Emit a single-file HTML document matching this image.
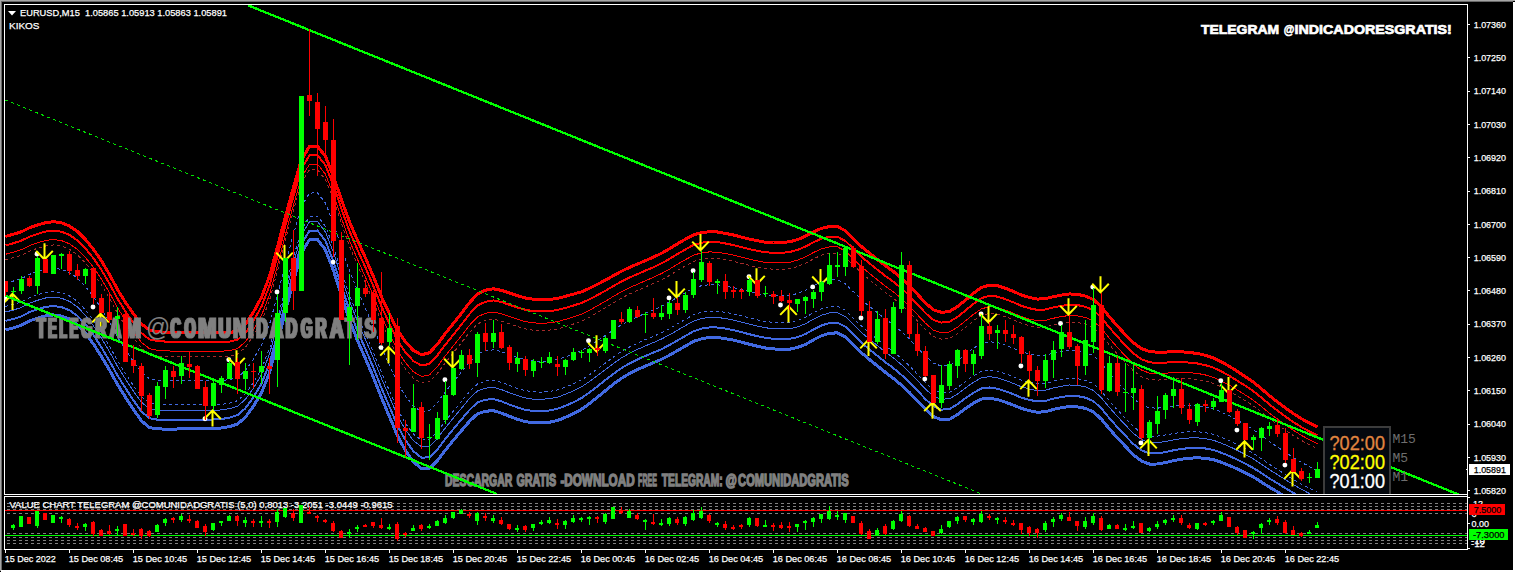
<!DOCTYPE html>
<html><head><meta charset="utf-8"><title>EURUSD,M15</title><style>html,body{margin:0;padding:0;background:#000;overflow:hidden}svg{display:block}</style></head><body>
<svg width="1515" height="572" viewBox="0 0 1515 572" font-family="'Liberation Sans', sans-serif">
<defs><filter id="fat" x="-5%" y="-20%" width="110%" height="140%"><feMorphology operator="dilate" radius="1 0"/></filter><filter id="fat2" x="-5%" y="-20%" width="110%" height="140%"><feMorphology operator="dilate" radius="0.5 0"/></filter><clipPath id="cm"><rect x="5" y="5" width="1462" height="489"/></clipPath><clipPath id="ci"><rect x="5" y="497" width="1462" height="52"/></clipPath></defs>
<rect width="1515" height="572" fill="#000"/>
<g shape-rendering="crispEdges">
<rect x="0" y="0" width="1515" height="1" fill="#a6a6a6"/><rect x="1" y="1" width="1512" height="1" fill="#696969"/>
<rect x="0" y="0" width="1" height="571" fill="#a6a6a6"/><rect x="1" y="1" width="1" height="569" fill="#696969"/>
<rect x="1513" y="2" width="2" height="570" fill="#fff"/><rect x="1" y="570" width="1514" height="2" fill="#fff"/>
<rect x="4" y="4" width="1464" height="1" fill="#fff"/><rect x="4" y="4" width="1" height="491" fill="#fff"/><rect x="4" y="494" width="1464" height="1" fill="#fff"/><rect x="1467" y="4" width="1" height="546" fill="#fff"/>
<rect x="4" y="496" width="1464" height="1" fill="#fff"/><rect x="4" y="496" width="1" height="54" fill="#fff"/><rect x="4" y="549" width="1464" height="1" fill="#fff"/>
</g>
<g clip-path="url(#cm)">
<g fill="none" shape-rendering="crispEdges" stroke-linejoin="round">
<polyline points="5.5,329.8 13.5,327.8 21.5,325.2 29.5,321.0 37.5,318.1 45.5,315.8 53.5,314.9 61.5,316.1 69.5,319.1 77.5,324.8 85.5,333.3 93.5,344.0 101.5,356.6 109.5,370.1 117.5,384.5 125.5,397.3 133.5,409.6 141.5,420.9 149.5,427.6 157.5,428.9 165.5,429.1 173.5,429.1 181.5,428.9 189.5,428.8 197.5,428.8 205.5,428.8 213.5,428.6 221.5,428.0 229.5,426.6 237.5,424.0 245.5,417.1 253.5,406.1 261.5,392.8 269.5,372.6 277.5,342.7 285.5,311.0 293.5,280.7 301.5,252.9 309.5,239.6 317.5,239.4 325.5,249.9 333.5,270.6 341.5,295.7 349.5,319.9 357.5,340.5 365.5,358.9 373.5,377.6 381.5,397.9 389.5,416.7 397.5,435.8 405.5,450.6 413.5,462.1 421.5,468.5 429.5,468.4 437.5,460.6 445.5,450.0 453.5,440.1 461.5,430.6 469.5,421.2 477.5,413.8 485.5,411.2 493.5,410.7 501.5,413.1 509.5,416.3 517.5,419.3 525.5,421.7 533.5,422.7 541.5,422.8 549.5,422.2 557.5,420.5 565.5,417.3 573.5,413.6 581.5,409.3 589.5,403.5 597.5,397.1 605.5,390.6 613.5,384.1 621.5,378.3 629.5,373.5 637.5,369.6 645.5,366.0 653.5,362.7 661.5,359.3 669.5,355.2 677.5,350.6 685.5,346.0 693.5,341.4 701.5,338.8 709.5,337.5 717.5,337.5 725.5,338.7 733.5,340.1 741.5,342.2 749.5,344.3 757.5,346.2 765.5,348.0 773.5,348.9 781.5,349.4 789.5,349.2 797.5,347.5 805.5,344.4 813.5,339.8 821.5,335.8 829.5,333.2 837.5,332.9 845.5,337.0 853.5,344.8 861.5,352.8 869.5,359.6 877.5,366.0 885.5,372.4 893.5,378.4 901.5,385.2 909.5,392.6 917.5,400.9 925.5,409.4 933.5,416.5 941.5,419.8 949.5,419.3 957.5,414.6 965.5,408.6 973.5,403.1 981.5,399.1 989.5,398.3 997.5,399.6 1005.5,402.2 1013.5,405.2 1021.5,408.5 1029.5,410.7 1037.5,412.3 1045.5,411.7 1053.5,409.4 1061.5,407.7 1069.5,406.5 1077.5,406.9 1085.5,408.4 1093.5,411.9 1101.5,419.3 1109.5,429.0 1117.5,438.0 1125.5,446.5 1133.5,454.9 1141.5,461.1 1149.5,464.1 1157.5,464.0 1165.5,462.6 1173.5,460.7 1181.5,459.2 1189.5,458.2 1197.5,457.8 1205.5,458.3 1213.5,459.7 1221.5,462.4 1229.5,465.5 1237.5,469.1 1245.5,473.0 1253.5,477.1 1261.5,482.1 1269.5,487.2 1277.5,491.9 1285.5,496.6 1293.5,501.4 1301.5,506.0 1309.5,510.2 1317.5,514.0" stroke="#4169e1" stroke-width="3"/>
<polyline points="5.5,320.9 13.5,318.9 21.5,316.3 29.5,312.1 37.5,309.2 45.5,306.9 53.5,306.0 61.5,307.2 69.5,310.2 77.5,315.9 85.5,324.4 93.5,335.0 101.5,347.4 109.5,361.0 117.5,375.4 125.5,388.2 133.5,400.4 141.5,411.6 149.5,418.3 157.5,419.7 165.5,419.9 173.5,419.9 181.5,419.7 189.5,419.7 197.5,419.6 205.5,419.6 213.5,419.5 221.5,419.0 229.5,417.7 237.5,415.1 245.5,408.2 253.5,397.1 261.5,383.7 269.5,363.4 277.5,333.6 285.5,302.0 293.5,271.7 301.5,244.0 309.5,230.7 317.5,230.5 325.5,241.0 333.5,261.6 341.5,286.5 349.5,310.5 357.5,330.9 365.5,349.2 373.5,368.0 381.5,388.2 389.5,406.8 397.5,425.7 405.5,440.2 413.5,451.4 421.5,457.7 429.5,457.3 437.5,449.5 445.5,438.8 453.5,428.9 461.5,419.4 469.5,409.9 477.5,402.4 485.5,399.7 493.5,399.1 501.5,401.4 509.5,404.6 517.5,407.5 525.5,409.9 533.5,410.9 541.5,411.1 549.5,410.5 557.5,408.8 565.5,405.8 573.5,402.2 581.5,398.1 589.5,392.5 597.5,386.3 605.5,380.0 613.5,373.8 621.5,368.1 629.5,363.4 637.5,359.5 645.5,355.9 653.5,352.6 661.5,349.2 669.5,345.0 677.5,340.4 685.5,335.8 693.5,331.3 701.5,328.6 709.5,327.4 717.5,327.5 725.5,328.6 733.5,330.1 741.5,332.1 749.5,334.3 757.5,336.2 765.5,337.9 773.5,338.8 781.5,339.2 789.5,338.9 797.5,337.2 805.5,334.0 813.5,329.5 821.5,325.5 829.5,323.0 837.5,322.7 845.5,326.8 853.5,334.7 861.5,342.7 869.5,349.4 877.5,355.9 885.5,362.3 893.5,368.2 901.5,375.0 909.5,382.4 917.5,390.7 925.5,399.2 933.5,406.3 941.5,409.6 949.5,409.0 957.5,404.3 965.5,398.2 973.5,392.7 981.5,388.5 989.5,387.5 997.5,388.7 1005.5,391.3 1013.5,394.3 1021.5,397.7 1029.5,399.9 1037.5,401.5 1045.5,400.9 1053.5,398.6 1061.5,397.0 1069.5,395.8 1077.5,396.1 1085.5,397.7 1093.5,401.2 1101.5,408.6 1109.5,418.3 1117.5,427.3 1125.5,435.8 1133.5,444.2 1141.5,450.4 1149.5,453.4 1157.5,453.3 1165.5,452.1 1173.5,450.3 1181.5,448.9 1189.5,448.1 1197.5,447.8 1205.5,448.5 1213.5,450.0 1221.5,452.8 1229.5,456.0 1237.5,459.8 1245.5,463.8 1253.5,468.1 1261.5,473.2 1269.5,478.5 1277.5,483.3 1285.5,488.2 1293.5,493.0 1301.5,497.6 1309.5,501.9 1317.5,505.7" stroke="#4169e1" stroke-width="2"/>
<polyline points="5.5,312.0 13.5,310.0 21.5,307.4 29.5,303.2 37.5,300.3 45.5,298.0 53.5,297.1 61.5,298.2 69.5,301.4 77.5,307.0 85.5,315.4 93.5,325.9 101.5,338.3 109.5,351.8 117.5,366.3 125.5,379.1 133.5,391.3 141.5,402.3 149.5,409.0 157.5,410.4 165.5,410.6 173.5,410.7 181.5,410.5 189.5,410.5 197.5,410.5 205.5,410.4 213.5,410.4 221.5,409.9 229.5,408.7 237.5,406.2 245.5,399.3 253.5,388.1 261.5,374.6 269.5,354.2 277.5,324.4 285.5,293.0 293.5,262.8 301.5,235.1 309.5,221.8 317.5,221.6 325.5,232.0 333.5,252.6 341.5,277.4 349.5,301.2 357.5,321.3 365.5,339.6 373.5,358.4 381.5,378.6 389.5,397.0 397.5,415.7 405.5,429.8 413.5,440.8 421.5,446.8 429.5,446.3 437.5,438.3 445.5,427.7 453.5,417.8 461.5,408.2 469.5,398.5 477.5,390.9 485.5,388.1 493.5,387.4 501.5,389.6 509.5,392.8 517.5,395.7 525.5,398.0 533.5,399.2 541.5,399.3 549.5,398.7 557.5,397.2 565.5,394.2 573.5,390.8 581.5,386.8 589.5,381.5 597.5,375.5 605.5,369.5 613.5,363.4 621.5,357.9 629.5,353.3 637.5,349.4 645.5,345.9 653.5,342.5 661.5,339.0 669.5,334.9 677.5,330.2 685.5,325.6 693.5,321.1 701.5,318.5 709.5,317.3 717.5,317.4 725.5,318.6 733.5,320.1 741.5,322.1 749.5,324.2 757.5,326.1 765.5,327.8 773.5,328.6 781.5,329.0 789.5,328.7 797.5,326.9 805.5,323.7 813.5,319.2 821.5,315.2 829.5,312.9 837.5,312.6 845.5,316.7 853.5,324.6 861.5,332.5 869.5,339.3 877.5,345.7 885.5,352.1 893.5,358.0 901.5,364.7 909.5,372.2 917.5,380.6 925.5,389.1 933.5,396.2 941.5,399.3 949.5,398.7 957.5,394.0 965.5,387.9 973.5,382.2 981.5,377.8 989.5,376.7 997.5,377.8 1005.5,380.4 1013.5,383.5 1021.5,386.8 1029.5,389.1 1037.5,390.7 1045.5,390.1 1053.5,387.9 1061.5,386.2 1069.5,385.0 1077.5,385.4 1085.5,386.9 1093.5,390.5 1101.5,397.9 1109.5,407.6 1117.5,416.6 1125.5,425.1 1133.5,433.5 1141.5,439.6 1149.5,442.6 1157.5,442.7 1165.5,441.5 1173.5,439.9 1181.5,438.7 1189.5,438.0 1197.5,437.9 1205.5,438.6 1213.5,440.3 1221.5,443.2 1229.5,446.6 1237.5,450.5 1245.5,454.6 1253.5,459.0 1261.5,464.3 1269.5,469.7 1277.5,474.7 1285.5,479.7 1293.5,484.6 1301.5,489.3 1309.5,493.6 1317.5,497.4" stroke="#4169e1" stroke-width="1"/>
<polyline points="5.5,306.5 13.5,304.4 21.5,301.9 29.5,297.7 37.5,294.8 45.5,292.5 53.5,291.6 61.5,292.7 69.5,295.9 77.5,301.5 85.5,309.9 93.5,320.4 101.5,332.7 109.5,346.2 117.5,360.7 125.5,373.5 133.5,385.7 141.5,396.6 149.5,403.2 157.5,404.6 165.5,404.9 173.5,405.0 181.5,404.9 189.5,404.8 197.5,404.8 205.5,404.8 213.5,404.7 221.5,404.3 229.5,403.2 237.5,400.7 245.5,393.8 253.5,382.5 261.5,368.9 269.5,348.5 277.5,318.8 285.5,287.4 293.5,257.2 301.5,229.6 309.5,216.3 317.5,216.1 325.5,226.5 333.5,247.0 341.5,271.7 349.5,295.4 357.5,315.4 365.5,333.7 373.5,352.4 381.5,372.6 389.5,391.0 397.5,409.4 405.5,423.4 413.5,434.2 421.5,440.1 429.5,439.5 437.5,431.5 445.5,420.8 453.5,410.9 461.5,401.3 469.5,391.6 477.5,383.9 485.5,381.0 493.5,380.2 501.5,382.4 509.5,385.5 517.5,388.4 525.5,390.7 533.5,391.9 541.5,392.1 549.5,391.5 557.5,390.0 565.5,387.1 573.5,383.7 581.5,379.9 589.5,374.7 597.5,368.9 605.5,363.0 613.5,357.0 621.5,351.5 629.5,347.0 637.5,343.2 645.5,339.6 653.5,336.3 661.5,332.8 669.5,328.6 677.5,323.9 685.5,319.3 693.5,314.8 701.5,312.2 709.5,311.0 717.5,311.2 725.5,312.4 733.5,313.9 741.5,315.9 749.5,318.0 757.5,319.9 765.5,321.6 773.5,322.3 781.5,322.7 789.5,322.3 797.5,320.5 805.5,317.3 813.5,312.8 821.5,308.9 829.5,306.6 837.5,306.3 845.5,310.4 853.5,318.3 861.5,326.2 869.5,333.0 877.5,339.4 885.5,345.8 893.5,351.7 901.5,358.4 909.5,365.9 917.5,374.3 925.5,382.8 933.5,389.9 941.5,393.0 949.5,392.3 957.5,387.6 965.5,381.5 973.5,375.7 981.5,371.2 989.5,370.0 997.5,371.1 1005.5,373.7 1013.5,376.8 1021.5,380.1 1029.5,382.4 1037.5,384.0 1045.5,383.4 1053.5,381.2 1061.5,379.6 1069.5,378.4 1077.5,378.7 1085.5,380.3 1093.5,383.8 1101.5,391.3 1109.5,401.0 1117.5,410.0 1125.5,418.5 1133.5,426.8 1141.5,433.0 1149.5,436.0 1157.5,436.1 1165.5,435.0 1173.5,433.5 1181.5,432.3 1189.5,431.8 1197.5,431.7 1205.5,432.6 1213.5,434.3 1221.5,437.3 1229.5,440.7 1237.5,444.7 1245.5,448.9 1253.5,453.4 1261.5,458.8 1269.5,464.3 1277.5,469.4 1285.5,474.5 1293.5,479.5 1301.5,484.2 1309.5,488.4 1317.5,492.3" stroke="#4169e1" stroke-width="1" stroke-dasharray="3 3"/>
<polyline points="5.5,283.2 13.5,281.0 21.5,278.5 29.5,274.4 37.5,271.5 45.5,269.3 53.5,268.3 61.5,269.4 69.5,272.6 77.5,278.2 85.5,286.5 93.5,296.7 101.5,308.8 109.5,322.3 117.5,337.0 125.5,349.8 133.5,361.7 141.5,372.4 149.5,378.8 157.5,380.3 165.5,380.8 173.5,380.9 181.5,380.8 189.5,380.8 197.5,380.8 205.5,380.8 213.5,380.8 221.5,380.5 229.5,379.7 237.5,377.4 245.5,370.5 253.5,359.0 261.5,345.0 269.5,324.5 277.5,294.8 285.5,263.7 293.5,233.8 301.5,206.3 309.5,193.1 317.5,192.8 325.5,203.2 333.5,223.5 341.5,247.8 349.5,270.9 357.5,290.4 365.5,308.4 373.5,327.3 381.5,347.4 389.5,365.3 397.5,383.1 405.5,396.3 413.5,406.3 421.5,411.6 429.5,410.6 437.5,402.4 445.5,391.6 453.5,381.7 461.5,371.9 469.5,361.9 477.5,353.9 485.5,350.7 493.5,349.8 501.5,351.7 509.5,354.7 517.5,357.5 525.5,359.8 533.5,361.0 541.5,361.3 549.5,360.8 557.5,359.4 565.5,356.8 573.5,353.8 581.5,350.5 589.5,345.9 597.5,340.7 605.5,335.4 613.5,329.9 621.5,324.8 629.5,320.5 637.5,316.8 645.5,313.3 653.5,309.9 661.5,306.3 669.5,302.0 677.5,297.2 685.5,292.6 693.5,288.1 701.5,285.7 709.5,284.6 717.5,284.8 725.5,286.1 733.5,287.6 741.5,289.6 749.5,291.7 757.5,293.5 765.5,295.1 773.5,295.8 781.5,296.0 789.5,295.5 797.5,293.5 805.5,290.3 813.5,285.8 821.5,282.1 829.5,279.9 837.5,279.7 845.5,283.9 853.5,291.8 861.5,299.7 869.5,306.4 877.5,312.8 885.5,319.2 893.5,325.0 901.5,331.6 909.5,339.1 917.5,347.6 925.5,356.2 933.5,363.2 941.5,366.1 949.5,365.3 957.5,360.6 965.5,354.3 973.5,348.2 981.5,343.3 989.5,341.7 997.5,342.6 1005.5,345.2 1013.5,348.3 1021.5,351.8 1029.5,354.1 1037.5,355.7 1045.5,355.2 1053.5,353.0 1061.5,351.4 1069.5,350.2 1077.5,350.6 1085.5,352.2 1093.5,355.8 1101.5,363.2 1109.5,372.9 1117.5,382.1 1125.5,390.6 1133.5,398.8 1141.5,404.8 1149.5,407.9 1157.5,408.1 1165.5,407.4 1173.5,406.2 1181.5,405.5 1189.5,405.4 1197.5,405.6 1205.5,406.8 1213.5,408.9 1221.5,412.2 1229.5,415.9 1237.5,420.3 1245.5,424.8 1253.5,429.7 1261.5,435.5 1269.5,441.5 1277.5,447.0 1285.5,452.4 1293.5,457.5 1301.5,462.3 1309.5,466.7 1317.5,470.5" stroke="#4169e1" stroke-width="1" stroke-dasharray="3 3"/>
<polyline points="5.5,236.5 13.5,234.2 21.5,231.7 29.5,227.8 37.5,225.0 45.5,222.7 53.5,221.7 61.5,222.8 69.5,226.0 77.5,231.6 85.5,239.6 93.5,249.3 101.5,261.0 109.5,274.5 117.5,289.5 125.5,302.4 133.5,313.9 141.5,323.9 149.5,330.0 157.5,331.7 165.5,332.4 173.5,332.7 181.5,332.8 189.5,332.8 197.5,332.8 205.5,332.8 213.5,332.9 221.5,333.0 229.5,332.7 237.5,330.8 245.5,324.0 253.5,311.9 261.5,297.3 269.5,276.3 277.5,246.9 285.5,216.4 293.5,187.0 301.5,159.6 309.5,146.5 317.5,146.3 325.5,156.4 333.5,176.4 341.5,199.9 349.5,221.8 357.5,240.3 365.5,257.9 373.5,276.9 381.5,296.8 389.5,314.0 397.5,330.3 405.5,341.9 413.5,350.6 421.5,354.7 429.5,352.8 437.5,344.1 445.5,333.3 453.5,323.3 461.5,313.3 469.5,302.7 477.5,293.9 485.5,290.2 493.5,288.8 501.5,290.4 509.5,293.0 517.5,295.7 525.5,298.0 533.5,299.3 541.5,299.7 549.5,299.4 557.5,298.4 565.5,296.3 573.5,294.1 581.5,291.8 589.5,288.3 597.5,284.3 605.5,280.1 613.5,275.6 621.5,271.2 629.5,267.4 637.5,264.0 645.5,260.6 653.5,257.1 661.5,253.3 669.5,248.7 677.5,243.8 685.5,239.2 693.5,234.8 701.5,232.6 709.5,231.7 717.5,232.0 725.5,233.4 733.5,235.0 741.5,237.1 749.5,239.1 757.5,240.8 765.5,242.2 773.5,242.6 781.5,242.6 789.5,241.8 797.5,239.6 805.5,236.2 813.5,231.9 821.5,228.4 829.5,226.6 837.5,226.6 845.5,230.8 853.5,238.7 861.5,246.6 869.5,253.2 877.5,259.6 885.5,265.9 893.5,271.6 901.5,278.1 909.5,285.6 917.5,294.3 925.5,303.0 933.5,309.8 941.5,312.4 949.5,311.4 957.5,306.6 965.5,300.1 973.5,293.3 981.5,287.4 989.5,285.1 997.5,285.7 1005.5,288.3 1013.5,291.5 1021.5,295.1 1029.5,297.5 1037.5,299.1 1045.5,298.7 1053.5,296.6 1061.5,295.1 1069.5,293.9 1077.5,294.4 1085.5,296.1 1093.5,299.6 1101.5,307.1 1109.5,316.9 1117.5,326.2 1125.5,334.8 1133.5,342.8 1141.5,348.6 1149.5,351.6 1157.5,352.2 1165.5,352.1 1173.5,351.7 1181.5,351.8 1189.5,352.5 1197.5,353.5 1205.5,355.3 1213.5,358.0 1221.5,361.9 1229.5,366.4 1237.5,371.5 1245.5,376.7 1253.5,382.3 1261.5,388.8 1269.5,395.7 1277.5,402.1 1285.5,408.1 1293.5,413.7 1301.5,418.7 1309.5,423.2 1317.5,427.1" stroke="#ff0000" stroke-width="3"/>
<polyline points="5.5,245.4 13.5,243.2 21.5,240.6 29.5,236.7 37.5,233.9 45.5,231.6 53.5,230.6 61.5,231.7 69.5,234.9 77.5,240.5 85.5,248.6 93.5,258.3 101.5,270.1 109.5,283.7 117.5,298.6 125.5,311.5 133.5,323.0 141.5,333.2 149.5,339.4 157.5,340.9 165.5,341.6 173.5,341.9 181.5,342.0 189.5,342.0 197.5,342.0 205.5,342.0 213.5,342.1 221.5,342.1 229.5,341.7 237.5,339.7 245.5,332.9 253.5,320.9 261.5,306.4 269.5,285.5 277.5,256.0 285.5,225.4 293.5,195.9 301.5,168.5 309.5,155.4 317.5,155.2 325.5,165.3 333.5,185.4 341.5,209.1 349.5,231.2 357.5,249.8 365.5,267.6 373.5,286.5 381.5,306.5 389.5,323.8 397.5,340.4 405.5,352.3 413.5,361.2 421.5,365.5 429.5,363.9 437.5,355.2 445.5,344.5 453.5,334.5 461.5,324.5 469.5,314.0 477.5,305.4 485.5,301.7 493.5,300.4 501.5,302.1 509.5,304.8 517.5,307.5 525.5,309.8 533.5,311.1 541.5,311.5 549.5,311.1 557.5,310.0 565.5,307.9 573.5,305.5 581.5,303.0 589.5,299.3 597.5,295.1 605.5,290.7 613.5,286.0 621.5,281.5 629.5,277.6 637.5,274.1 645.5,270.6 653.5,267.2 661.5,263.4 669.5,258.9 677.5,254.0 685.5,249.4 693.5,245.0 701.5,242.7 709.5,241.8 717.5,242.1 725.5,243.5 733.5,245.1 741.5,247.1 749.5,249.2 757.5,250.8 765.5,252.3 773.5,252.8 781.5,252.8 789.5,252.1 797.5,249.9 805.5,246.6 813.5,242.2 821.5,238.7 829.5,236.7 837.5,236.8 845.5,241.0 853.5,248.8 861.5,256.7 869.5,263.4 877.5,269.8 885.5,276.1 893.5,281.8 901.5,288.3 909.5,295.8 917.5,304.5 925.5,313.1 933.5,320.0 941.5,322.6 949.5,321.7 957.5,316.9 965.5,310.5 973.5,303.8 981.5,298.1 989.5,295.9 997.5,296.6 1005.5,299.2 1013.5,302.4 1021.5,305.9 1029.5,308.3 1037.5,309.9 1045.5,309.5 1053.5,307.4 1061.5,305.8 1069.5,304.7 1077.5,305.1 1085.5,306.8 1093.5,310.3 1101.5,317.8 1109.5,327.6 1117.5,336.8 1125.5,345.4 1133.5,353.5 1141.5,359.3 1149.5,362.3 1157.5,362.9 1165.5,362.6 1173.5,362.1 1181.5,362.1 1189.5,362.6 1197.5,363.5 1205.5,365.2 1213.5,367.7 1221.5,371.5 1229.5,375.9 1237.5,380.8 1245.5,385.9 1253.5,391.3 1261.5,397.7 1269.5,404.5 1277.5,410.7 1285.5,416.6 1293.5,422.1 1301.5,427.1 1309.5,431.5 1317.5,435.4" stroke="#ff0000" stroke-width="2"/>
<polyline points="5.5,254.3 13.5,252.1 21.5,249.6 29.5,245.6 37.5,242.8 45.5,240.5 53.5,239.5 61.5,240.6 69.5,243.8 77.5,249.4 85.5,257.5 93.5,267.4 101.5,279.3 109.5,292.8 117.5,307.6 125.5,320.5 133.5,332.2 141.5,342.4 149.5,348.7 157.5,350.2 165.5,350.9 173.5,351.1 181.5,351.1 189.5,351.1 197.5,351.1 205.5,351.1 213.5,351.2 221.5,351.2 229.5,350.6 237.5,348.6 245.5,341.7 253.5,329.9 261.5,315.5 269.5,294.7 277.5,265.2 285.5,234.4 293.5,204.9 301.5,177.4 309.5,164.3 317.5,164.1 325.5,174.3 333.5,194.4 341.5,218.2 349.5,240.6 357.5,259.4 365.5,277.2 373.5,296.1 381.5,316.1 389.5,333.6 397.5,350.5 405.5,362.7 413.5,371.9 421.5,376.4 429.5,374.9 437.5,366.4 445.5,355.6 453.5,345.6 461.5,335.7 469.5,325.3 477.5,316.8 485.5,313.3 493.5,312.1 501.5,313.8 509.5,316.6 517.5,319.3 525.5,321.6 533.5,322.9 541.5,323.2 549.5,322.9 557.5,321.7 565.5,319.4 573.5,316.9 581.5,314.2 589.5,310.3 597.5,305.8 605.5,301.2 613.5,296.3 621.5,291.7 629.5,287.7 637.5,284.2 645.5,280.7 653.5,277.3 661.5,273.5 669.5,269.1 677.5,264.2 685.5,259.6 693.5,255.2 701.5,252.8 709.5,251.9 717.5,252.2 725.5,253.5 733.5,255.1 741.5,257.2 749.5,259.2 757.5,260.9 765.5,262.4 773.5,262.9 781.5,263.0 789.5,262.3 797.5,260.2 805.5,256.9 813.5,252.5 821.5,248.9 829.5,246.9 837.5,246.9 845.5,251.1 853.5,259.0 861.5,266.8 869.5,273.5 877.5,279.9 885.5,286.3 893.5,292.0 901.5,298.5 909.5,306.0 917.5,314.7 925.5,323.3 933.5,330.2 941.5,332.9 949.5,332.0 957.5,327.2 965.5,320.8 973.5,314.3 981.5,308.8 989.5,306.7 997.5,307.4 1005.5,310.1 1013.5,313.2 1021.5,316.7 1029.5,319.1 1037.5,320.7 1045.5,320.3 1053.5,318.2 1061.5,316.6 1069.5,315.4 1077.5,315.9 1085.5,317.5 1093.5,321.0 1101.5,328.5 1109.5,338.3 1117.5,347.5 1125.5,356.1 1133.5,364.2 1141.5,370.1 1149.5,373.1 1157.5,373.5 1165.5,373.2 1173.5,372.5 1181.5,372.3 1189.5,372.7 1197.5,373.4 1205.5,375.0 1213.5,377.4 1221.5,381.1 1229.5,385.3 1237.5,390.1 1245.5,395.1 1253.5,400.4 1261.5,406.6 1269.5,413.2 1277.5,419.2 1285.5,425.0 1293.5,430.4 1301.5,435.4 1309.5,439.8 1317.5,443.7" stroke="#ff0000" stroke-width="1"/>
<polyline points="5.5,259.8 13.5,257.6 21.5,255.1 29.5,251.1 37.5,248.3 45.5,246.0 53.5,245.0 61.5,246.1 69.5,249.3 77.5,254.9 85.5,263.0 93.5,273.0 101.5,284.9 109.5,298.4 117.5,313.2 125.5,326.1 133.5,337.8 141.5,348.1 149.5,354.4 157.5,356.0 165.5,356.6 173.5,356.8 181.5,356.8 189.5,356.8 197.5,356.8 205.5,356.8 213.5,356.9 221.5,356.8 229.5,356.2 237.5,354.1 245.5,347.2 253.5,335.4 261.5,321.2 269.5,300.4 277.5,270.8 285.5,240.0 293.5,210.4 301.5,182.9 309.5,169.8 317.5,169.6 325.5,179.8 333.5,199.9 341.5,223.8 349.5,246.3 357.5,265.3 365.5,283.2 373.5,302.1 381.5,322.1 389.5,339.6 397.5,356.7 405.5,369.1 413.5,378.4 421.5,383.1 429.5,381.7 437.5,373.2 445.5,362.5 453.5,352.5 461.5,342.6 469.5,332.3 477.5,323.9 485.5,320.4 493.5,319.3 501.5,321.1 509.5,323.9 517.5,326.6 525.5,328.9 533.5,330.2 541.5,330.5 549.5,330.1 557.5,328.9 565.5,326.6 573.5,324.0 581.5,321.2 589.5,317.1 597.5,312.5 605.5,307.7 613.5,302.7 621.5,298.0 629.5,294.0 637.5,290.4 645.5,286.9 653.5,283.5 661.5,279.8 669.5,275.4 677.5,270.5 685.5,265.9 693.5,261.5 701.5,259.1 709.5,258.1 717.5,258.4 725.5,259.7 733.5,261.3 741.5,263.4 749.5,265.4 757.5,267.1 765.5,268.6 773.5,269.2 781.5,269.3 789.5,268.7 797.5,266.6 805.5,263.3 813.5,258.9 821.5,255.2 829.5,253.2 837.5,253.2 845.5,257.4 853.5,265.2 861.5,273.1 869.5,279.8 877.5,286.2 885.5,292.6 893.5,298.3 901.5,304.9 909.5,312.4 917.5,321.0 925.5,329.6 933.5,336.5 941.5,339.2 949.5,338.4 957.5,333.6 965.5,327.2 973.5,320.8 981.5,315.4 989.5,313.4 997.5,314.2 1005.5,316.8 1013.5,319.9 1021.5,323.4 1029.5,325.8 1037.5,327.4 1045.5,327.0 1053.5,324.8 1061.5,323.2 1069.5,322.1 1077.5,322.5 1085.5,324.2 1093.5,327.7 1101.5,335.1 1109.5,344.9 1117.5,354.1 1125.5,362.7 1133.5,370.8 1141.5,376.7 1149.5,379.7 1157.5,380.1 1165.5,379.7 1173.5,379.0 1181.5,378.7 1189.5,378.9 1197.5,379.6 1205.5,381.1 1213.5,383.4 1221.5,387.0 1229.5,391.2 1237.5,395.9 1245.5,400.7 1253.5,406.0 1261.5,412.1 1269.5,418.6 1277.5,424.5 1285.5,430.3 1293.5,435.6 1301.5,440.5 1309.5,444.9 1317.5,448.8" stroke="#a52a2a" stroke-width="1" stroke-dasharray="3 3"/>
</g>
<circle cx="5.5" cy="299.0" r="2.45" fill="#fff"/>
<circle cx="37.0" cy="254.0" r="2.45" fill="#fff"/>
<circle cx="93.0" cy="307.0" r="2.45" fill="#fff"/>
<circle cx="205.0" cy="418.7" r="2.45" fill="#fff"/>
<circle cx="228.8" cy="359.8" r="2.45" fill="#fff"/>
<circle cx="277.0" cy="292.0" r="2.45" fill="#fff"/>
<circle cx="333.1" cy="262.1" r="2.45" fill="#fff"/>
<circle cx="381.0" cy="347.6" r="2.45" fill="#fff"/>
<circle cx="444.9" cy="379.8" r="2.45" fill="#fff"/>
<circle cx="588.5" cy="340.7" r="2.45" fill="#fff"/>
<circle cx="669.0" cy="297.9" r="2.45" fill="#fff"/>
<circle cx="693.1" cy="270.8" r="2.45" fill="#fff"/>
<circle cx="749.0" cy="276.8" r="2.45" fill="#fff"/>
<circle cx="780.5" cy="305.0" r="2.45" fill="#fff"/>
<circle cx="812.7" cy="286.9" r="2.45" fill="#fff"/>
<circle cx="861.0" cy="318.0" r="2.45" fill="#fff"/>
<circle cx="924.8" cy="379.1" r="2.45" fill="#fff"/>
<circle cx="981.1" cy="313.9" r="2.45" fill="#fff"/>
<circle cx="1020.9" cy="366.0" r="2.45" fill="#fff"/>
<circle cx="1060.5" cy="323.5" r="2.45" fill="#fff"/>
<circle cx="1092.7" cy="287.1" r="2.45" fill="#fff"/>
<circle cx="1140.9" cy="442.9" r="2.45" fill="#fff"/>
<circle cx="1220.8" cy="380.8" r="2.45" fill="#fff"/>
<circle cx="1236.9" cy="430.1" r="2.45" fill="#fff"/>
<circle cx="1284.9" cy="465.1" r="2.45" fill="#fff"/>
<g stroke="#ffff00" stroke-width="2" fill="none" stroke-linecap="butt">
<path d="M44.5 243.3 V260.0 M36.2 250.9 L44.5 259.5 L52.8 250.9"/>
<path d="M236.5 350.3 V367.0 M228.2 357.9 L236.5 366.5 L244.8 357.9"/>
<path d="M284.5 245.0 V261.7 M276.2 252.6 L284.5 261.2 L292.8 252.6"/>
<path d="M452.5 351.2 V367.9 M444.2 358.8 L452.5 367.4 L460.8 358.8"/>
<path d="M596.5 335.3 V352.0 M588.2 342.9 L596.5 351.5 L604.8 342.9"/>
<path d="M676.5 281.0 V297.7 M668.2 288.6 L676.5 297.2 L684.8 288.6"/>
<path d="M700.5 234.0 V250.7 M692.2 241.6 L700.5 250.2 L708.8 241.6"/>
<path d="M756.5 268.3 V285.0 M748.2 275.9 L756.5 284.5 L764.8 275.9"/>
<path d="M820.5 268.9 V285.59999999999997 M812.2 276.5 L820.5 285.09999999999997 L828.8 276.5"/>
<path d="M988.5 306.3 V323.0 M980.2 313.9 L988.5 322.5 L996.8 313.9"/>
<path d="M1068.5 298.3 V315.0 M1060.2 305.9 L1068.5 314.5 L1076.8 305.9"/>
<path d="M1100.5 276.2 V292.9 M1092.2 283.8 L1100.5 292.4 L1108.8 283.8"/>
<path d="M1228.5 377.0 V393.7 M1220.2 384.6 L1228.5 393.2 L1236.8 384.6"/>
<path d="M12.5 310.0 V293.3 M4.199999999999999 302.4 L12.5 293.8 L20.8 302.4"/>
<path d="M100.5 330.0 V313.3 M92.2 322.4 L100.5 313.8 L108.8 322.4"/>
<path d="M212.5 426.6 V409.90000000000003 M204.2 419.0 L212.5 410.40000000000003 L220.8 419.0"/>
<path d="M388.5 363.2 V346.5 M380.2 355.6 L388.5 347.0 L396.8 355.6"/>
<path d="M788.5 322.5 V305.8 M780.2 314.9 L788.5 306.3 L796.8 314.9"/>
<path d="M868.5 356.0 V339.3 M860.2 348.4 L868.5 339.8 L876.8 348.4"/>
<path d="M932.5 418.7 V402.0 M924.2 411.1 L932.5 402.5 L940.8 411.1"/>
<path d="M1028.5 396.7 V380.0 M1020.2 389.1 L1028.5 380.5 L1036.8 389.1"/>
<path d="M1148.5 456.0 V439.3 M1140.2 448.4 L1148.5 439.8 L1156.8 448.4"/>
<path d="M1244.5 457.4 V440.7 M1236.2 449.8 L1244.5 441.2 L1252.8 449.8"/>
<path d="M1292.5 486.5 V469.8 M1284.2 478.9 L1292.5 470.3 L1300.8 478.9"/>
</g>
<text y="337.6" font-size="29.2" font-weight="bold" fill="#808080" xml:space="preserve" filter="url(#fat)" stroke="#808080" stroke-width="1" vector-effect="non-scaling-stroke" stroke-linejoin="miter"><tspan x="36.64" textLength="8.71" lengthAdjust="spacingAndGlyphs">T</tspan><tspan x="48.37" textLength="8.32" lengthAdjust="spacingAndGlyphs">E</tspan><tspan x="59.42" textLength="7.14" lengthAdjust="spacingAndGlyphs">L</tspan><tspan x="69.67" textLength="8.32" lengthAdjust="spacingAndGlyphs">E</tspan><tspan x="81.23" textLength="10.84" lengthAdjust="spacingAndGlyphs">G</tspan><tspan x="95.48" textLength="11.04" lengthAdjust="spacingAndGlyphs">R</tspan><tspan x="109.81" textLength="11.41" lengthAdjust="spacingAndGlyphs">A</tspan><tspan x="123.39" textLength="17.51" lengthAdjust="spacingAndGlyphs">M</tspan><tspan x="142"> </tspan></text>
<text x="146.1" y="335.8" font-size="25.8" fill="#808080" textLength="24.25" lengthAdjust="spacingAndGlyphs">@</text>
<text y="337.6" font-size="29.2" font-weight="bold" fill="#808080" xml:space="preserve" filter="url(#fat)" stroke="#808080" stroke-width="1" vector-effect="non-scaling-stroke" stroke-linejoin="miter"><tspan x="170.62" textLength="10.27" lengthAdjust="spacingAndGlyphs">C</tspan><tspan x="184.61" textLength="11.19" lengthAdjust="spacingAndGlyphs">O</tspan><tspan x="198.35" textLength="18.11" lengthAdjust="spacingAndGlyphs">M</tspan><tspan x="218.47" textLength="12.38" lengthAdjust="spacingAndGlyphs">U</tspan><tspan x="233.33" textLength="12.65" lengthAdjust="spacingAndGlyphs">N</tspan><tspan x="248.25" textLength="5.21" lengthAdjust="spacingAndGlyphs">I</tspan><tspan x="256.15" textLength="11.30" lengthAdjust="spacingAndGlyphs">D</tspan><tspan x="269.73" textLength="13.56" lengthAdjust="spacingAndGlyphs">A</tspan><tspan x="285.74" textLength="11.42" lengthAdjust="spacingAndGlyphs">D</tspan><tspan x="300.89" textLength="11.53" lengthAdjust="spacingAndGlyphs">G</tspan><tspan x="315.48" textLength="11.04" lengthAdjust="spacingAndGlyphs">R</tspan><tspan x="330.03" textLength="13.67" lengthAdjust="spacingAndGlyphs">A</tspan><tspan x="345.35" textLength="8.30" lengthAdjust="spacingAndGlyphs">T</tspan><tspan x="356.99" textLength="5.01" lengthAdjust="spacingAndGlyphs">I</tspan><tspan x="364.72" textLength="11.13" lengthAdjust="spacingAndGlyphs">S</tspan></text>
<text y="485.6" font-size="16.6" font-weight="bold" fill="#808080" stroke="#808080" stroke-width="1.4" vector-effect="non-scaling-stroke" stroke-linejoin="miter"><tspan x="445.0" textLength="67.2" lengthAdjust="spacingAndGlyphs">DESCARGAR</tspan><tspan x="516.4" textLength="39.8" lengthAdjust="spacingAndGlyphs">GRATIS</tspan><tspan x="560.4" textLength="74.2" lengthAdjust="spacingAndGlyphs">-DOWNLOAD</tspan><tspan x="638.1" textLength="18.8" lengthAdjust="spacingAndGlyphs">FREE</tspan><tspan x="661.8" textLength="60.9" lengthAdjust="spacingAndGlyphs">TELEGRAM:</tspan><tspan x="725.4" textLength="11.3" lengthAdjust="spacingAndGlyphs">@</tspan><tspan x="738.1" textLength="110.5" lengthAdjust="spacingAndGlyphs">COMUNIDADGRATIS</tspan></text>
<g shape-rendering="crispEdges">
<line x1="5" y1="99.9" x2="982" y2="494.1" stroke="#00e000" stroke-width="1" stroke-dasharray="3.2 3.27"/>
</g>
<g shape-rendering="crispEdges" stroke="#00ff00" stroke-width="2.3">
<line x1="248" y1="5.3" x2="1459" y2="494.7"/>
<line x1="4" y1="295.2" x2="497" y2="494"/>
</g>
<g shape-rendering="crispEdges">
<rect x="5" y="281" width="1" height="15" fill="#ff0000"/><rect x="3" y="281" width="5" height="11" fill="#ff0000"/>
<rect x="13" y="287" width="1" height="7" fill="#00ff00"/><rect x="11" y="291" width="5" height="1" fill="#00ff00"/>
<rect x="21" y="276" width="1" height="18" fill="#00ff00"/><rect x="19" y="279" width="5" height="12" fill="#00ff00"/>
<rect x="29" y="276" width="1" height="11" fill="#ff0000"/><rect x="27" y="278" width="5" height="8" fill="#ff0000"/>
<rect x="37" y="256" width="1" height="38" fill="#00ff00"/><rect x="35" y="258" width="5" height="28" fill="#00ff00"/>
<rect x="45" y="259" width="1" height="14" fill="#ff0000"/><rect x="43" y="259" width="5" height="14" fill="#ff0000"/>
<rect x="53" y="255" width="1" height="19" fill="#00ff00"/><rect x="51" y="255" width="5" height="19" fill="#00ff00"/>
<rect x="61" y="253" width="1" height="16" fill="#00ff00"/><rect x="59" y="254" width="5" height="2" fill="#00ff00"/>
<rect x="69" y="251" width="1" height="24" fill="#ff0000"/><rect x="67" y="254" width="5" height="17" fill="#ff0000"/>
<rect x="77" y="264" width="1" height="16" fill="#ff0000"/><rect x="75" y="270" width="5" height="6" fill="#ff0000"/>
<rect x="85" y="268" width="1" height="16" fill="#00ff00"/><rect x="83" y="269" width="5" height="7" fill="#00ff00"/>
<rect x="93" y="267" width="1" height="37" fill="#ff0000"/><rect x="91" y="268" width="5" height="30" fill="#ff0000"/>
<rect x="101" y="294" width="1" height="19" fill="#ff0000"/><rect x="99" y="298" width="5" height="15" fill="#ff0000"/>
<rect x="109" y="294" width="1" height="29" fill="#ff0000"/><rect x="107" y="312" width="5" height="8" fill="#ff0000"/>
<rect x="117" y="307" width="1" height="29" fill="#00ff00"/><rect x="115" y="316" width="5" height="3" fill="#00ff00"/>
<rect x="125" y="313" width="1" height="49" fill="#ff0000"/><rect x="123" y="314" width="5" height="48" fill="#ff0000"/>
<rect x="133" y="345" width="1" height="28" fill="#ff0000"/><rect x="131" y="360" width="5" height="6" fill="#ff0000"/>
<rect x="141" y="363" width="1" height="48" fill="#ff0000"/><rect x="139" y="366" width="5" height="30" fill="#ff0000"/>
<rect x="149" y="393" width="1" height="26" fill="#ff0000"/><rect x="147" y="395" width="5" height="21" fill="#ff0000"/>
<rect x="157" y="382" width="1" height="36" fill="#00ff00"/><rect x="155" y="386" width="5" height="29" fill="#00ff00"/>
<rect x="165" y="366" width="1" height="33" fill="#00ff00"/><rect x="163" y="370" width="5" height="17" fill="#00ff00"/>
<rect x="173" y="366" width="1" height="22" fill="#ff0000"/><rect x="171" y="371" width="5" height="6" fill="#ff0000"/>
<rect x="181" y="356" width="1" height="28" fill="#00ff00"/><rect x="179" y="363" width="5" height="13" fill="#00ff00"/>
<rect x="189" y="352" width="1" height="26" fill="#ff0000"/><rect x="187" y="364" width="5" height="3" fill="#ff0000"/>
<rect x="197" y="365" width="1" height="24" fill="#ff0000"/><rect x="195" y="366" width="5" height="23" fill="#ff0000"/>
<rect x="205" y="381" width="1" height="39" fill="#ff0000"/><rect x="203" y="387" width="5" height="19" fill="#ff0000"/>
<rect x="213" y="381" width="1" height="29" fill="#00ff00"/><rect x="211" y="383" width="5" height="23" fill="#00ff00"/>
<rect x="221" y="376" width="1" height="17" fill="#00ff00"/><rect x="219" y="378" width="5" height="7" fill="#00ff00"/>
<rect x="229" y="361" width="1" height="18" fill="#00ff00"/><rect x="227" y="363" width="5" height="16" fill="#00ff00"/>
<rect x="237" y="358" width="1" height="36" fill="#ff0000"/><rect x="235" y="362" width="5" height="17" fill="#ff0000"/>
<rect x="245" y="363" width="1" height="27" fill="#00ff00"/><rect x="243" y="371" width="5" height="8" fill="#00ff00"/>
<rect x="253" y="363" width="1" height="25" fill="#ff0000"/><rect x="251" y="371" width="5" height="1" fill="#ff0000"/>
<rect x="261" y="351" width="1" height="33" fill="#00ff00"/><rect x="259" y="366" width="5" height="6" fill="#00ff00"/>
<rect x="269" y="358" width="1" height="36" fill="#ff0000"/><rect x="267" y="366" width="5" height="3" fill="#ff0000"/>
<rect x="277" y="294" width="1" height="93" fill="#00ff00"/><rect x="275" y="313" width="5" height="47" fill="#00ff00"/>
<rect x="285" y="258" width="1" height="64" fill="#00ff00"/><rect x="283" y="258" width="5" height="55" fill="#00ff00"/>
<rect x="293" y="230" width="1" height="80" fill="#ff0000"/><rect x="291" y="258" width="5" height="33" fill="#ff0000"/>
<rect x="301" y="96" width="1" height="195" fill="#00ff00"/><rect x="299" y="96" width="5" height="195" fill="#00ff00"/>
<rect x="309" y="29" width="1" height="87" fill="#ff0000"/><rect x="307" y="95" width="5" height="6" fill="#ff0000"/>
<rect x="317" y="93" width="1" height="83" fill="#ff0000"/><rect x="315" y="102" width="5" height="27" fill="#ff0000"/>
<rect x="325" y="106" width="1" height="52" fill="#ff0000"/><rect x="323" y="122" width="5" height="18" fill="#ff0000"/>
<rect x="333" y="119" width="1" height="138" fill="#ff0000"/><rect x="331" y="140" width="5" height="101" fill="#ff0000"/>
<rect x="341" y="232" width="1" height="88" fill="#ff0000"/><rect x="339" y="240" width="5" height="80" fill="#ff0000"/>
<rect x="349" y="274" width="1" height="91" fill="#00ff00"/><rect x="347" y="307" width="5" height="14" fill="#00ff00"/>
<rect x="357" y="263" width="1" height="77" fill="#00ff00"/><rect x="355" y="288" width="5" height="18" fill="#00ff00"/>
<rect x="365" y="280" width="1" height="17" fill="#ff0000"/><rect x="363" y="288" width="5" height="6" fill="#ff0000"/>
<rect x="373" y="290" width="1" height="42" fill="#ff0000"/><rect x="371" y="293" width="5" height="27" fill="#ff0000"/>
<rect x="381" y="272" width="1" height="73" fill="#ff0000"/><rect x="379" y="318" width="5" height="25" fill="#ff0000"/>
<rect x="389" y="313" width="1" height="33" fill="#00ff00"/><rect x="387" y="328" width="5" height="14" fill="#00ff00"/>
<rect x="397" y="318" width="1" height="125" fill="#ff0000"/><rect x="395" y="326" width="5" height="102" fill="#ff0000"/>
<rect x="405" y="420" width="1" height="37" fill="#ff0000"/><rect x="403" y="428" width="5" height="3" fill="#ff0000"/>
<rect x="413" y="384" width="1" height="48" fill="#00ff00"/><rect x="411" y="408" width="5" height="24" fill="#00ff00"/>
<rect x="421" y="402" width="1" height="47" fill="#ff0000"/><rect x="419" y="407" width="5" height="31" fill="#ff0000"/>
<rect x="429" y="424" width="1" height="36" fill="#00ff00"/><rect x="427" y="437" width="5" height="1" fill="#00ff00"/>
<rect x="437" y="412" width="1" height="28" fill="#00ff00"/><rect x="435" y="418" width="5" height="21" fill="#00ff00"/>
<rect x="445" y="381" width="1" height="43" fill="#00ff00"/><rect x="443" y="395" width="5" height="25" fill="#00ff00"/>
<rect x="453" y="368" width="1" height="28" fill="#00ff00"/><rect x="451" y="368" width="5" height="27" fill="#00ff00"/>
<rect x="461" y="350" width="1" height="20" fill="#00ff00"/><rect x="459" y="355" width="5" height="14" fill="#00ff00"/>
<rect x="469" y="349" width="1" height="20" fill="#ff0000"/><rect x="467" y="355" width="5" height="9" fill="#ff0000"/>
<rect x="477" y="332" width="1" height="45" fill="#00ff00"/><rect x="475" y="334" width="5" height="29" fill="#00ff00"/>
<rect x="485" y="323" width="1" height="28" fill="#ff0000"/><rect x="483" y="333" width="5" height="9" fill="#ff0000"/>
<rect x="493" y="320" width="1" height="28" fill="#00ff00"/><rect x="491" y="333" width="5" height="9" fill="#00ff00"/>
<rect x="501" y="324" width="1" height="25" fill="#ff0000"/><rect x="499" y="332" width="5" height="16" fill="#ff0000"/>
<rect x="509" y="345" width="1" height="25" fill="#ff0000"/><rect x="507" y="347" width="5" height="16" fill="#ff0000"/>
<rect x="517" y="352" width="1" height="20" fill="#00ff00"/><rect x="515" y="358" width="5" height="6" fill="#00ff00"/>
<rect x="525" y="356" width="1" height="20" fill="#ff0000"/><rect x="523" y="359" width="5" height="11" fill="#ff0000"/>
<rect x="533" y="359" width="1" height="18" fill="#00ff00"/><rect x="531" y="361" width="5" height="10" fill="#00ff00"/>
<rect x="541" y="357" width="1" height="11" fill="#00ff00"/><rect x="539" y="362" width="5" height="1" fill="#00ff00"/>
<rect x="549" y="352" width="1" height="12" fill="#00ff00"/><rect x="547" y="357" width="5" height="6" fill="#00ff00"/>
<rect x="557" y="356" width="1" height="20" fill="#ff0000"/><rect x="555" y="364" width="5" height="3" fill="#ff0000"/>
<rect x="565" y="359" width="1" height="16" fill="#00ff00"/><rect x="563" y="360" width="5" height="7" fill="#00ff00"/>
<rect x="573" y="348" width="1" height="13" fill="#00ff00"/><rect x="571" y="352" width="5" height="8" fill="#00ff00"/>
<rect x="581" y="350" width="1" height="8" fill="#00ff00"/><rect x="579" y="352" width="5" height="1" fill="#00ff00"/>
<rect x="589" y="348" width="1" height="14" fill="#00ff00"/><rect x="587" y="349" width="5" height="4" fill="#00ff00"/>
<rect x="597" y="345" width="1" height="11" fill="#ff0000"/><rect x="595" y="348" width="5" height="2" fill="#ff0000"/>
<rect x="605" y="336" width="1" height="17" fill="#00ff00"/><rect x="603" y="338" width="5" height="13" fill="#00ff00"/>
<rect x="613" y="320" width="1" height="19" fill="#00ff00"/><rect x="611" y="320" width="5" height="19" fill="#00ff00"/>
<rect x="621" y="312" width="1" height="12" fill="#ff0000"/><rect x="619" y="319" width="5" height="3" fill="#ff0000"/>
<rect x="629" y="307" width="1" height="16" fill="#00ff00"/><rect x="627" y="309" width="5" height="13" fill="#00ff00"/>
<rect x="637" y="306" width="1" height="12" fill="#ff0000"/><rect x="635" y="310" width="5" height="7" fill="#ff0000"/>
<rect x="645" y="312" width="1" height="21" fill="#00ff00"/><rect x="643" y="314" width="5" height="1" fill="#00ff00"/>
<rect x="653" y="298" width="1" height="21" fill="#ff0000"/><rect x="651" y="313" width="5" height="4" fill="#ff0000"/>
<rect x="661" y="305" width="1" height="15" fill="#00ff00"/><rect x="659" y="313" width="5" height="4" fill="#00ff00"/>
<rect x="669" y="300" width="1" height="19" fill="#00ff00"/><rect x="667" y="303" width="5" height="11" fill="#00ff00"/>
<rect x="677" y="298" width="1" height="17" fill="#ff0000"/><rect x="675" y="303" width="5" height="7" fill="#ff0000"/>
<rect x="685" y="292" width="1" height="21" fill="#00ff00"/><rect x="683" y="295" width="5" height="15" fill="#00ff00"/>
<rect x="693" y="272" width="1" height="26" fill="#00ff00"/><rect x="691" y="279" width="5" height="16" fill="#00ff00"/>
<rect x="701" y="251" width="1" height="31" fill="#00ff00"/><rect x="699" y="262" width="5" height="18" fill="#00ff00"/>
<rect x="709" y="261" width="1" height="25" fill="#ff0000"/><rect x="707" y="263" width="5" height="19" fill="#ff0000"/>
<rect x="717" y="279" width="1" height="15" fill="#00ff00"/><rect x="715" y="281" width="5" height="2" fill="#00ff00"/>
<rect x="725" y="274" width="1" height="25" fill="#ff0000"/><rect x="723" y="281" width="5" height="11" fill="#ff0000"/>
<rect x="733" y="286" width="1" height="12" fill="#ff0000"/><rect x="731" y="290" width="5" height="2" fill="#ff0000"/>
<rect x="741" y="288" width="1" height="11" fill="#ff0000"/><rect x="739" y="290" width="5" height="2" fill="#ff0000"/>
<rect x="749" y="278" width="1" height="18" fill="#00ff00"/><rect x="747" y="280" width="5" height="12" fill="#00ff00"/>
<rect x="757" y="280" width="1" height="18" fill="#ff0000"/><rect x="755" y="280" width="5" height="16" fill="#ff0000"/>
<rect x="765" y="286" width="1" height="11" fill="#00ff00"/><rect x="763" y="293" width="5" height="1" fill="#00ff00"/>
<rect x="773" y="291" width="1" height="13" fill="#ff0000"/><rect x="771" y="294" width="5" height="3" fill="#ff0000"/>
<rect x="781" y="290" width="1" height="12" fill="#ff0000"/><rect x="779" y="296" width="5" height="5" fill="#ff0000"/>
<rect x="789" y="293" width="1" height="17" fill="#ff0000"/><rect x="787" y="300" width="5" height="3" fill="#ff0000"/>
<rect x="797" y="299" width="1" height="13" fill="#00ff00"/><rect x="795" y="299" width="5" height="5" fill="#00ff00"/>
<rect x="805" y="296" width="1" height="18" fill="#00ff00"/><rect x="803" y="297" width="5" height="4" fill="#00ff00"/>
<rect x="813" y="290" width="1" height="18" fill="#00ff00"/><rect x="811" y="292" width="5" height="7" fill="#00ff00"/>
<rect x="821" y="281" width="1" height="20" fill="#00ff00"/><rect x="819" y="282" width="5" height="10" fill="#00ff00"/>
<rect x="829" y="253" width="1" height="32" fill="#00ff00"/><rect x="827" y="265" width="5" height="19" fill="#00ff00"/>
<rect x="837" y="252" width="1" height="25" fill="#00ff00"/><rect x="835" y="265" width="5" height="2" fill="#00ff00"/>
<rect x="845" y="246" width="1" height="30" fill="#00ff00"/><rect x="843" y="248" width="5" height="19" fill="#00ff00"/>
<rect x="853" y="246" width="1" height="22" fill="#ff0000"/><rect x="851" y="248" width="5" height="19" fill="#ff0000"/>
<rect x="861" y="260" width="1" height="56" fill="#ff0000"/><rect x="859" y="266" width="5" height="45" fill="#ff0000"/>
<rect x="869" y="301" width="1" height="41" fill="#ff0000"/><rect x="867" y="311" width="5" height="31" fill="#ff0000"/>
<rect x="877" y="311" width="1" height="33" fill="#00ff00"/><rect x="875" y="319" width="5" height="23" fill="#00ff00"/>
<rect x="885" y="309" width="1" height="50" fill="#ff0000"/><rect x="883" y="318" width="5" height="36" fill="#ff0000"/>
<rect x="893" y="302" width="1" height="52" fill="#00ff00"/><rect x="891" y="307" width="5" height="47" fill="#00ff00"/>
<rect x="901" y="252" width="1" height="61" fill="#00ff00"/><rect x="899" y="265" width="5" height="44" fill="#00ff00"/>
<rect x="909" y="261" width="1" height="77" fill="#ff0000"/><rect x="907" y="265" width="5" height="69" fill="#ff0000"/>
<rect x="917" y="323" width="1" height="33" fill="#ff0000"/><rect x="915" y="334" width="5" height="17" fill="#ff0000"/>
<rect x="925" y="346" width="1" height="31" fill="#ff0000"/><rect x="923" y="351" width="5" height="25" fill="#ff0000"/>
<rect x="933" y="375" width="1" height="28" fill="#ff0000"/><rect x="931" y="375" width="5" height="28" fill="#ff0000"/>
<rect x="941" y="365" width="1" height="43" fill="#00ff00"/><rect x="939" y="385" width="5" height="18" fill="#00ff00"/>
<rect x="949" y="361" width="1" height="29" fill="#00ff00"/><rect x="947" y="364" width="5" height="22" fill="#00ff00"/>
<rect x="957" y="349" width="1" height="29" fill="#00ff00"/><rect x="955" y="350" width="5" height="16" fill="#00ff00"/>
<rect x="965" y="349" width="1" height="23" fill="#ff0000"/><rect x="963" y="350" width="5" height="14" fill="#ff0000"/>
<rect x="973" y="350" width="1" height="25" fill="#00ff00"/><rect x="971" y="354" width="5" height="10" fill="#00ff00"/>
<rect x="981" y="315" width="1" height="44" fill="#00ff00"/><rect x="979" y="326" width="5" height="30" fill="#00ff00"/>
<rect x="989" y="322" width="1" height="18" fill="#ff0000"/><rect x="987" y="326" width="5" height="8" fill="#ff0000"/>
<rect x="997" y="325" width="1" height="24" fill="#00ff00"/><rect x="995" y="330" width="5" height="3" fill="#00ff00"/>
<rect x="1005" y="320" width="1" height="22" fill="#ff0000"/><rect x="1003" y="330" width="5" height="4" fill="#ff0000"/>
<rect x="1013" y="325" width="1" height="19" fill="#ff0000"/><rect x="1011" y="334" width="5" height="4" fill="#ff0000"/>
<rect x="1021" y="336" width="1" height="27" fill="#ff0000"/><rect x="1019" y="337" width="5" height="17" fill="#ff0000"/>
<rect x="1029" y="351" width="1" height="29" fill="#ff0000"/><rect x="1027" y="355" width="5" height="16" fill="#ff0000"/>
<rect x="1037" y="366" width="1" height="30" fill="#ff0000"/><rect x="1035" y="370" width="5" height="11" fill="#ff0000"/>
<rect x="1045" y="354" width="1" height="34" fill="#00ff00"/><rect x="1043" y="360" width="5" height="21" fill="#00ff00"/>
<rect x="1053" y="341" width="1" height="37" fill="#00ff00"/><rect x="1051" y="350" width="5" height="10" fill="#00ff00"/>
<rect x="1061" y="325" width="1" height="32" fill="#00ff00"/><rect x="1059" y="332" width="5" height="17" fill="#00ff00"/>
<rect x="1069" y="315" width="1" height="34" fill="#ff0000"/><rect x="1067" y="332" width="5" height="15" fill="#ff0000"/>
<rect x="1077" y="344" width="1" height="41" fill="#ff0000"/><rect x="1075" y="346" width="5" height="20" fill="#ff0000"/>
<rect x="1085" y="320" width="1" height="55" fill="#00ff00"/><rect x="1083" y="340" width="5" height="26" fill="#00ff00"/>
<rect x="1093" y="288" width="1" height="65" fill="#00ff00"/><rect x="1091" y="305" width="5" height="37" fill="#00ff00"/>
<rect x="1101" y="293" width="1" height="101" fill="#ff0000"/><rect x="1099" y="305" width="5" height="85" fill="#ff0000"/>
<rect x="1109" y="356" width="1" height="36" fill="#00ff00"/><rect x="1107" y="363" width="5" height="28" fill="#00ff00"/>
<rect x="1117" y="356" width="1" height="40" fill="#ff0000"/><rect x="1115" y="363" width="5" height="29" fill="#ff0000"/>
<rect x="1125" y="363" width="1" height="49" fill="#00ff00"/><rect x="1123" y="392" width="5" height="1" fill="#00ff00"/>
<rect x="1133" y="362" width="1" height="48" fill="#00ff00"/><rect x="1131" y="388" width="5" height="5" fill="#00ff00"/>
<rect x="1141" y="385" width="1" height="55" fill="#ff0000"/><rect x="1139" y="389" width="5" height="49" fill="#ff0000"/>
<rect x="1149" y="420" width="1" height="24" fill="#00ff00"/><rect x="1147" y="422" width="5" height="16" fill="#00ff00"/>
<rect x="1157" y="396" width="1" height="38" fill="#00ff00"/><rect x="1155" y="411" width="5" height="13" fill="#00ff00"/>
<rect x="1165" y="393" width="1" height="26" fill="#00ff00"/><rect x="1163" y="395" width="5" height="15" fill="#00ff00"/>
<rect x="1173" y="377" width="1" height="31" fill="#00ff00"/><rect x="1171" y="389" width="5" height="7" fill="#00ff00"/>
<rect x="1181" y="378" width="1" height="36" fill="#ff0000"/><rect x="1179" y="389" width="5" height="19" fill="#ff0000"/>
<rect x="1189" y="403" width="1" height="21" fill="#ff0000"/><rect x="1187" y="409" width="5" height="11" fill="#ff0000"/>
<rect x="1197" y="403" width="1" height="23" fill="#00ff00"/><rect x="1195" y="404" width="5" height="18" fill="#00ff00"/>
<rect x="1205" y="400" width="1" height="12" fill="#ff0000"/><rect x="1203" y="404" width="5" height="2" fill="#ff0000"/>
<rect x="1213" y="398" width="1" height="12" fill="#00ff00"/><rect x="1211" y="401" width="5" height="6" fill="#00ff00"/>
<rect x="1221" y="383" width="1" height="19" fill="#00ff00"/><rect x="1219" y="390" width="5" height="12" fill="#00ff00"/>
<rect x="1229" y="390" width="1" height="23" fill="#ff0000"/><rect x="1227" y="390" width="5" height="22" fill="#ff0000"/>
<rect x="1237" y="409" width="1" height="17" fill="#ff0000"/><rect x="1235" y="411" width="5" height="13" fill="#ff0000"/>
<rect x="1245" y="423" width="1" height="17" fill="#ff0000"/><rect x="1243" y="423" width="5" height="17" fill="#ff0000"/>
<rect x="1253" y="435" width="1" height="15" fill="#00ff00"/><rect x="1251" y="437" width="5" height="3" fill="#00ff00"/>
<rect x="1261" y="427" width="1" height="24" fill="#00ff00"/><rect x="1259" y="428" width="5" height="10" fill="#00ff00"/>
<rect x="1269" y="422" width="1" height="14" fill="#00ff00"/><rect x="1267" y="426" width="5" height="3" fill="#00ff00"/>
<rect x="1277" y="418" width="1" height="19" fill="#ff0000"/><rect x="1275" y="425" width="5" height="9" fill="#ff0000"/>
<rect x="1285" y="428" width="1" height="35" fill="#ff0000"/><rect x="1283" y="433" width="5" height="27" fill="#ff0000"/>
<rect x="1293" y="448" width="1" height="24" fill="#ff0000"/><rect x="1291" y="459" width="5" height="13" fill="#ff0000"/>
<rect x="1301" y="468" width="1" height="13" fill="#ff0000"/><rect x="1299" y="471" width="5" height="8" fill="#ff0000"/>
<rect x="1309" y="473" width="1" height="10" fill="#00ff00"/><rect x="1307" y="477" width="5" height="1" fill="#00ff00"/>
<rect x="1317" y="462" width="1" height="16" fill="#00ff00"/><rect x="1315" y="469" width="5" height="9" fill="#00ff00"/>
</g>
</g>
<g shape-rendering="crispEdges"><rect x="1323" y="426" width="68" height="68" fill="#3c3c3c"/><rect x="1325" y="428" width="64" height="66" fill="#04080e"/></g>
<g font-size="19.4" stroke-width="0.3">
<text x="1329.5" y="450.3" fill="#e08540" stroke="#e08540" textLength="55.5" lengthAdjust="spacingAndGlyphs">?02:00</text>
<text x="1329.5" y="469.3" fill="#ffff00" stroke="#ffff00" textLength="55.5" lengthAdjust="spacingAndGlyphs">?02:00</text>
<text x="1329.5" y="488.3" fill="#ffffff" stroke="#ffffff" textLength="55.5" lengthAdjust="spacingAndGlyphs">?01:00</text>
</g>
<g font-family="'Liberation Mono', monospace" font-size="13" fill="#6e6e6e">
<text x="1392.5" y="443">M15</text><text x="1392.5" y="462">M5</text><text x="1392.5" y="481">M1</text>
</g>
<path d="M8 11 H16 L12 15.5 Z" fill="#fff"/>
<text x="20" y="16.4" font-size="9.8" fill="#fff" stroke="#fff" stroke-width="0.25" textLength="207" lengthAdjust="spacingAndGlyphs" xml:space="preserve">EURUSD,M15  1.05865 1.05913 1.05863 1.05891</text>
<text x="9" y="29.4" font-size="9.8" fill="#fff" stroke="#fff" stroke-width="0.25" textLength="30.5" lengthAdjust="spacingAndGlyphs">KIKOS</text>
<text y="33.8" font-size="13.5" font-weight="bold" fill="#fff" stroke="#fff" stroke-width="0.7"><tspan x="1201" textLength="78.2" lengthAdjust="spacingAndGlyphs">TELEGRAM</tspan><tspan x="1279.2"> </tspan><tspan x="1283.8" textLength="10.6" lengthAdjust="spacingAndGlyphs">@</tspan><tspan x="1294.6" textLength="157.2" lengthAdjust="spacingAndGlyphs">INDICADORESGRATIS!</tspan></text>
<g shape-rendering="crispEdges">
<rect x="1468" y="24" width="2" height="1" fill="#fff"/>
<rect x="1468" y="57" width="2" height="1" fill="#fff"/>
<rect x="1468" y="91" width="2" height="1" fill="#fff"/>
<rect x="1468" y="124" width="2" height="1" fill="#fff"/>
<rect x="1468" y="157" width="2" height="1" fill="#fff"/>
<rect x="1468" y="191" width="2" height="1" fill="#fff"/>
<rect x="1468" y="224" width="2" height="1" fill="#fff"/>
<rect x="1468" y="257" width="2" height="1" fill="#fff"/>
<rect x="1468" y="290" width="2" height="1" fill="#fff"/>
<rect x="1468" y="324" width="2" height="1" fill="#fff"/>
<rect x="1468" y="357" width="2" height="1" fill="#fff"/>
<rect x="1468" y="390" width="2" height="1" fill="#fff"/>
<rect x="1468" y="424" width="2" height="1" fill="#fff"/>
<rect x="1468" y="457" width="2" height="1" fill="#fff"/>
<rect x="1468" y="490" width="2" height="1" fill="#fff"/>
<rect x="1469" y="464" width="41" height="11" fill="#fff"/><rect x="1466" y="469" width="1" height="1" fill="#fff"/>
</g>
<g font-size="9.8" fill="#fff" stroke="#fff" stroke-width="0.25">
<text x="1473.7" y="27.8" textLength="32.3" lengthAdjust="spacingAndGlyphs">1.07360</text>
<text x="1473.7" y="61.0" textLength="32.3" lengthAdjust="spacingAndGlyphs">1.07250</text>
<text x="1473.7" y="94.3" textLength="32.3" lengthAdjust="spacingAndGlyphs">1.07140</text>
<text x="1473.7" y="127.7" textLength="32.3" lengthAdjust="spacingAndGlyphs">1.07030</text>
<text x="1473.7" y="160.9" textLength="32.3" lengthAdjust="spacingAndGlyphs">1.06920</text>
<text x="1473.7" y="194.2" textLength="32.3" lengthAdjust="spacingAndGlyphs">1.06810</text>
<text x="1473.7" y="227.6" textLength="32.3" lengthAdjust="spacingAndGlyphs">1.06700</text>
<text x="1473.7" y="260.8" textLength="32.3" lengthAdjust="spacingAndGlyphs">1.06590</text>
<text x="1473.7" y="294.1" textLength="32.3" lengthAdjust="spacingAndGlyphs">1.06480</text>
<text x="1473.7" y="327.4" textLength="32.3" lengthAdjust="spacingAndGlyphs">1.06370</text>
<text x="1473.7" y="360.6" textLength="32.3" lengthAdjust="spacingAndGlyphs">1.06260</text>
<text x="1473.7" y="393.9" textLength="32.3" lengthAdjust="spacingAndGlyphs">1.06150</text>
<text x="1473.7" y="427.2" textLength="32.3" lengthAdjust="spacingAndGlyphs">1.06040</text>
<text x="1473.7" y="460.6" textLength="32.3" lengthAdjust="spacingAndGlyphs">1.05930</text>
<text x="1473.7" y="493.9" textLength="32.3" lengthAdjust="spacingAndGlyphs">1.05820</text>
<text x="1473.7" y="472.9" fill="#000" stroke="#000" textLength="32.3" lengthAdjust="spacingAndGlyphs">1.05891</text>
</g>
<g shape-rendering="crispEdges">
<line x1="5" y1="503.5" x2="1467" y2="503.5" stroke="#808080" stroke-width="1" stroke-dasharray="3 3" stroke-dashoffset="-2"/>
<line x1="5" y1="506.5" x2="1467" y2="506.5" stroke="#808080" stroke-width="1" stroke-dasharray="3 3" stroke-dashoffset="-2"/>
<line x1="5" y1="509.5" x2="1467" y2="509.5" stroke="#808080" stroke-width="1" stroke-dasharray="3 3" stroke-dashoffset="-2"/>
<line x1="5" y1="513.5" x2="1467" y2="513.5" stroke="#808080" stroke-width="1" stroke-dasharray="3 3" stroke-dashoffset="-2"/>
<line x1="5" y1="533.5" x2="1467" y2="533.5" stroke="#808080" stroke-width="1" stroke-dasharray="3 3" stroke-dashoffset="-2"/>
<line x1="5" y1="537.5" x2="1467" y2="537.5" stroke="#808080" stroke-width="1" stroke-dasharray="3 3" stroke-dashoffset="-2"/>
<line x1="5" y1="540.5" x2="1467" y2="540.5" stroke="#808080" stroke-width="1" stroke-dasharray="3 3" stroke-dashoffset="-2"/>
<line x1="5" y1="543.5" x2="1467" y2="543.5" stroke="#808080" stroke-width="1" stroke-dasharray="3 3" stroke-dashoffset="-2"/>
<rect x="5" y="510" width="1462" height="1" fill="#ff0000"/><rect x="5" y="535" width="1462" height="1" fill="#00ff00"/>
</g>
<text x="9.5" y="508.3" font-size="9.8" fill="#fff" stroke="#fff" stroke-width="0.25" textLength="383" lengthAdjust="spacingAndGlyphs">VALUE CHART TELEGRAM @COMUNIDADGRATIS (5,0) 0.8013 -3.2051 -3.0449 -0.9615</text>
<g shape-rendering="crispEdges" clip-path="url(#ci)">
<rect x="13" y="524" width="1" height="6" fill="#00ff00"/><rect x="11" y="525" width="4" height="3" fill="#00ff00"/>
<rect x="21" y="516" width="1" height="11" fill="#00ff00"/><rect x="19" y="516" width="4" height="11" fill="#00ff00"/>
<rect x="29" y="517" width="1" height="7" fill="#ff0000"/><rect x="27" y="517" width="4" height="7" fill="#ff0000"/>
<rect x="37" y="511" width="1" height="17" fill="#00ff00"/><rect x="35" y="511" width="4" height="15" fill="#00ff00"/>
<rect x="45" y="513" width="1" height="7" fill="#ff0000"/><rect x="43" y="513" width="4" height="7" fill="#ff0000"/>
<rect x="53" y="515" width="1" height="8" fill="#00ff00"/><rect x="51" y="515" width="4" height="8" fill="#00ff00"/>
<rect x="61" y="516" width="1" height="7" fill="#00ff00"/><rect x="59" y="517" width="4" height="2" fill="#00ff00"/>
<rect x="69" y="518" width="1" height="9" fill="#ff0000"/><rect x="67" y="519" width="4" height="6" fill="#ff0000"/>
<rect x="77" y="523" width="1" height="7" fill="#ff0000"/><rect x="75" y="526" width="4" height="2" fill="#ff0000"/>
<rect x="85" y="523" width="1" height="8" fill="#00ff00"/><rect x="83" y="524" width="4" height="3" fill="#00ff00"/>
<rect x="93" y="521" width="1" height="15" fill="#ff0000"/><rect x="91" y="522" width="4" height="12" fill="#ff0000"/>
<rect x="101" y="529" width="1" height="7" fill="#ff0000"/><rect x="99" y="530" width="4" height="6" fill="#ff0000"/>
<rect x="109" y="525" width="1" height="10" fill="#ff0000"/><rect x="107" y="531" width="4" height="3" fill="#ff0000"/>
<rect x="117" y="526" width="1" height="9" fill="#00ff00"/><rect x="115" y="529" width="4" height="2" fill="#00ff00"/>
<rect x="125" y="524" width="1" height="12" fill="#ff0000"/><rect x="123" y="524" width="4" height="12" fill="#ff0000"/>
<rect x="133" y="529" width="1" height="7" fill="#ff0000"/><rect x="131" y="533" width="4" height="2" fill="#ff0000"/>
<rect x="141" y="528" width="1" height="11" fill="#ff0000"/><rect x="139" y="529" width="4" height="7" fill="#ff0000"/>
<rect x="149" y="530" width="1" height="7" fill="#ff0000"/><rect x="147" y="531" width="4" height="5" fill="#ff0000"/>
<rect x="157" y="524" width="1" height="8" fill="#00ff00"/><rect x="155" y="525" width="4" height="7" fill="#00ff00"/>
<rect x="165" y="518" width="1" height="8" fill="#00ff00"/><rect x="163" y="519" width="4" height="4" fill="#00ff00"/>
<rect x="173" y="517" width="1" height="6" fill="#ff0000"/><rect x="171" y="518" width="4" height="2" fill="#ff0000"/>
<rect x="181" y="514" width="1" height="8" fill="#00ff00"/><rect x="179" y="516" width="4" height="4" fill="#00ff00"/>
<rect x="189" y="515" width="1" height="8" fill="#ff0000"/><rect x="187" y="519" width="4" height="2" fill="#ff0000"/>
<rect x="197" y="520" width="1" height="8" fill="#ff0000"/><rect x="195" y="521" width="4" height="7" fill="#ff0000"/>
<rect x="205" y="524" width="1" height="12" fill="#ff0000"/><rect x="203" y="526" width="4" height="6" fill="#ff0000"/>
<rect x="213" y="523" width="1" height="8" fill="#00ff00"/><rect x="211" y="523" width="4" height="7" fill="#00ff00"/>
<rect x="221" y="521" width="1" height="5" fill="#00ff00"/><rect x="219" y="521" width="4" height="2" fill="#00ff00"/>
<rect x="229" y="515" width="1" height="6" fill="#00ff00"/><rect x="227" y="516" width="4" height="5" fill="#00ff00"/>
<rect x="237" y="515" width="1" height="11" fill="#ff0000"/><rect x="235" y="516" width="4" height="5" fill="#ff0000"/>
<rect x="245" y="517" width="1" height="10" fill="#00ff00"/><rect x="243" y="520" width="4" height="3" fill="#00ff00"/>
<rect x="253" y="519" width="1" height="8" fill="#ff0000"/><rect x="251" y="521" width="4" height="2" fill="#ff0000"/>
<rect x="261" y="516" width="1" height="11" fill="#00ff00"/><rect x="259" y="521" width="4" height="2" fill="#00ff00"/>
<rect x="269" y="519" width="1" height="9" fill="#ff0000"/><rect x="267" y="521" width="4" height="2" fill="#ff0000"/>
<rect x="277" y="509" width="1" height="18" fill="#00ff00"/><rect x="275" y="512" width="4" height="10" fill="#00ff00"/>
<rect x="285" y="508" width="1" height="10" fill="#00ff00"/><rect x="283" y="508" width="4" height="9" fill="#00ff00"/>
<rect x="293" y="509" width="1" height="12" fill="#ff0000"/><rect x="291" y="513" width="4" height="5" fill="#ff0000"/>
<rect x="301" y="505" width="1" height="18" fill="#00ff00"/><rect x="299" y="505" width="4" height="18" fill="#00ff00"/>
<rect x="309" y="507" width="1" height="7" fill="#ff0000"/><rect x="307" y="512" width="4" height="2" fill="#ff0000"/>
<rect x="317" y="515" width="1" height="7" fill="#ff0000"/><rect x="315" y="516" width="4" height="2" fill="#ff0000"/>
<rect x="325" y="519" width="1" height="4" fill="#ff0000"/><rect x="323" y="520" width="4" height="2" fill="#ff0000"/>
<rect x="333" y="521" width="1" height="11" fill="#ff0000"/><rect x="331" y="523" width="4" height="8" fill="#ff0000"/>
<rect x="341" y="530" width="1" height="8" fill="#ff0000"/><rect x="339" y="531" width="4" height="7" fill="#ff0000"/>
<rect x="349" y="529" width="1" height="9" fill="#00ff00"/><rect x="347" y="532" width="4" height="2" fill="#00ff00"/>
<rect x="357" y="525" width="1" height="7" fill="#00ff00"/><rect x="355" y="527" width="4" height="2" fill="#00ff00"/>
<rect x="365" y="524" width="1" height="2" fill="#ff0000"/><rect x="363" y="525" width="4" height="2" fill="#ff0000"/>
<rect x="373" y="522" width="1" height="6" fill="#ff0000"/><rect x="371" y="522" width="4" height="4" fill="#ff0000"/>
<rect x="381" y="518" width="1" height="11" fill="#ff0000"/><rect x="379" y="525" width="4" height="3" fill="#ff0000"/>
<rect x="389" y="524" width="1" height="6" fill="#00ff00"/><rect x="387" y="527" width="4" height="2" fill="#00ff00"/>
<rect x="397" y="522" width="1" height="19" fill="#ff0000"/><rect x="395" y="524" width="4" height="15" fill="#ff0000"/>
<rect x="405" y="532" width="1" height="5" fill="#ff0000"/><rect x="403" y="533" width="4" height="2" fill="#ff0000"/>
<rect x="413" y="525" width="1" height="6" fill="#00ff00"/><rect x="411" y="528" width="4" height="3" fill="#00ff00"/>
<rect x="421" y="524" width="1" height="7" fill="#ff0000"/><rect x="419" y="525" width="4" height="4" fill="#ff0000"/>
<rect x="429" y="524" width="1" height="5" fill="#00ff00"/><rect x="427" y="526" width="4" height="2" fill="#00ff00"/>
<rect x="437" y="520" width="1" height="6" fill="#00ff00"/><rect x="435" y="521" width="4" height="5" fill="#00ff00"/>
<rect x="445" y="515" width="1" height="9" fill="#00ff00"/><rect x="443" y="518" width="4" height="5" fill="#00ff00"/>
<rect x="453" y="512" width="1" height="7" fill="#00ff00"/><rect x="451" y="512" width="4" height="6" fill="#00ff00"/>
<rect x="461" y="509" width="1" height="5" fill="#00ff00"/><rect x="459" y="510" width="4" height="4" fill="#00ff00"/>
<rect x="469" y="512" width="1" height="6" fill="#ff0000"/><rect x="467" y="514" width="4" height="2" fill="#ff0000"/>
<rect x="477" y="512" width="1" height="13" fill="#00ff00"/><rect x="475" y="513" width="4" height="8" fill="#00ff00"/>
<rect x="485" y="513" width="1" height="8" fill="#ff0000"/><rect x="483" y="516" width="4" height="2" fill="#ff0000"/>
<rect x="493" y="515" width="1" height="8" fill="#00ff00"/><rect x="491" y="518" width="4" height="3" fill="#00ff00"/>
<rect x="501" y="517" width="1" height="8" fill="#ff0000"/><rect x="499" y="520" width="4" height="4" fill="#ff0000"/>
<rect x="509" y="524" width="1" height="6" fill="#ff0000"/><rect x="507" y="524" width="4" height="5" fill="#ff0000"/>
<rect x="517" y="525" width="1" height="7" fill="#00ff00"/><rect x="515" y="528" width="4" height="2" fill="#00ff00"/>
<rect x="525" y="525" width="1" height="7" fill="#ff0000"/><rect x="523" y="526" width="4" height="4" fill="#ff0000"/>
<rect x="533" y="524" width="1" height="7" fill="#00ff00"/><rect x="531" y="524" width="4" height="4" fill="#00ff00"/>
<rect x="541" y="520" width="1" height="5" fill="#00ff00"/><rect x="539" y="522" width="4" height="2" fill="#00ff00"/>
<rect x="549" y="517" width="1" height="7" fill="#00ff00"/><rect x="547" y="520" width="4" height="3" fill="#00ff00"/>
<rect x="557" y="519" width="1" height="10" fill="#ff0000"/><rect x="555" y="523" width="4" height="2" fill="#ff0000"/>
<rect x="565" y="520" width="1" height="9" fill="#00ff00"/><rect x="563" y="521" width="4" height="4" fill="#00ff00"/>
<rect x="573" y="515" width="1" height="8" fill="#00ff00"/><rect x="571" y="518" width="4" height="4" fill="#00ff00"/>
<rect x="581" y="517" width="1" height="5" fill="#00ff00"/><rect x="579" y="518" width="4" height="2" fill="#00ff00"/>
<rect x="589" y="516" width="1" height="9" fill="#00ff00"/><rect x="587" y="517" width="4" height="2" fill="#00ff00"/>
<rect x="597" y="516" width="1" height="7" fill="#ff0000"/><rect x="595" y="517" width="4" height="2" fill="#ff0000"/>
<rect x="605" y="513" width="1" height="11" fill="#00ff00"/><rect x="603" y="514" width="4" height="8" fill="#00ff00"/>
<rect x="613" y="507" width="1" height="12" fill="#00ff00"/><rect x="611" y="507" width="4" height="12" fill="#00ff00"/>
<rect x="621" y="507" width="1" height="7" fill="#ff0000"/><rect x="619" y="511" width="4" height="2" fill="#ff0000"/>
<rect x="629" y="509" width="1" height="9" fill="#00ff00"/><rect x="627" y="511" width="4" height="7" fill="#00ff00"/>
<rect x="637" y="513" width="1" height="7" fill="#ff0000"/><rect x="635" y="515" width="4" height="4" fill="#ff0000"/>
<rect x="645" y="519" width="1" height="11" fill="#00ff00"/><rect x="643" y="520" width="4" height="2" fill="#00ff00"/>
<rect x="653" y="514" width="1" height="11" fill="#ff0000"/><rect x="651" y="522" width="4" height="2" fill="#ff0000"/>
<rect x="661" y="519" width="1" height="7" fill="#00ff00"/><rect x="659" y="523" width="4" height="2" fill="#00ff00"/>
<rect x="669" y="517" width="1" height="9" fill="#00ff00"/><rect x="667" y="518" width="4" height="6" fill="#00ff00"/>
<rect x="677" y="517" width="1" height="8" fill="#ff0000"/><rect x="675" y="519" width="4" height="4" fill="#ff0000"/>
<rect x="685" y="516" width="1" height="10" fill="#00ff00"/><rect x="683" y="517" width="4" height="7" fill="#00ff00"/>
<rect x="693" y="510" width="1" height="11" fill="#00ff00"/><rect x="691" y="513" width="4" height="7" fill="#00ff00"/>
<rect x="701" y="507" width="1" height="12" fill="#00ff00"/><rect x="699" y="511" width="4" height="7" fill="#00ff00"/>
<rect x="709" y="514" width="1" height="9" fill="#ff0000"/><rect x="707" y="515" width="4" height="6" fill="#ff0000"/>
<rect x="717" y="522" width="1" height="5" fill="#00ff00"/><rect x="715" y="523" width="4" height="2" fill="#00ff00"/>
<rect x="725" y="521" width="1" height="9" fill="#ff0000"/><rect x="723" y="524" width="4" height="4" fill="#ff0000"/>
<rect x="733" y="525" width="1" height="5" fill="#ff0000"/><rect x="731" y="527" width="4" height="2" fill="#ff0000"/>
<rect x="741" y="524" width="1" height="5" fill="#ff0000"/><rect x="739" y="525" width="4" height="2" fill="#ff0000"/>
<rect x="749" y="517" width="1" height="10" fill="#00ff00"/><rect x="747" y="518" width="4" height="7" fill="#00ff00"/>
<rect x="757" y="518" width="1" height="9" fill="#ff0000"/><rect x="755" y="518" width="4" height="8" fill="#ff0000"/>
<rect x="765" y="520" width="1" height="7" fill="#00ff00"/><rect x="763" y="525" width="4" height="2" fill="#00ff00"/>
<rect x="773" y="523" width="1" height="8" fill="#ff0000"/><rect x="771" y="525" width="4" height="2" fill="#ff0000"/>
<rect x="781" y="522" width="1" height="7" fill="#ff0000"/><rect x="779" y="525" width="4" height="3" fill="#ff0000"/>
<rect x="789" y="522" width="1" height="10" fill="#ff0000"/><rect x="787" y="526" width="4" height="2" fill="#ff0000"/>
<rect x="797" y="524" width="1" height="8" fill="#00ff00"/><rect x="795" y="524" width="4" height="3" fill="#00ff00"/>
<rect x="805" y="520" width="1" height="10" fill="#00ff00"/><rect x="803" y="521" width="4" height="2" fill="#00ff00"/>
<rect x="813" y="517" width="1" height="10" fill="#00ff00"/><rect x="811" y="518" width="4" height="4" fill="#00ff00"/>
<rect x="821" y="514" width="1" height="9" fill="#00ff00"/><rect x="819" y="514" width="4" height="5" fill="#00ff00"/>
<rect x="829" y="506" width="1" height="14" fill="#00ff00"/><rect x="827" y="511" width="4" height="8" fill="#00ff00"/>
<rect x="837" y="511" width="1" height="9" fill="#00ff00"/><rect x="835" y="515" width="4" height="2" fill="#00ff00"/>
<rect x="845" y="513" width="1" height="10" fill="#00ff00"/><rect x="843" y="513" width="4" height="7" fill="#00ff00"/>
<rect x="853" y="516" width="1" height="7" fill="#ff0000"/><rect x="851" y="516" width="4" height="7" fill="#ff0000"/>
<rect x="861" y="521" width="1" height="14" fill="#ff0000"/><rect x="859" y="523" width="4" height="11" fill="#ff0000"/>
<rect x="869" y="529" width="1" height="10" fill="#ff0000"/><rect x="867" y="531" width="4" height="8" fill="#ff0000"/>
<rect x="877" y="528" width="1" height="8" fill="#00ff00"/><rect x="875" y="530" width="4" height="5" fill="#00ff00"/>
<rect x="885" y="524" width="1" height="11" fill="#ff0000"/><rect x="883" y="526" width="4" height="8" fill="#ff0000"/>
<rect x="893" y="520" width="1" height="10" fill="#00ff00"/><rect x="891" y="521" width="4" height="8" fill="#00ff00"/>
<rect x="901" y="511" width="1" height="11" fill="#00ff00"/><rect x="899" y="514" width="4" height="7" fill="#00ff00"/>
<rect x="909" y="515" width="1" height="12" fill="#ff0000"/><rect x="907" y="516" width="4" height="10" fill="#ff0000"/>
<rect x="917" y="524" width="1" height="5" fill="#ff0000"/><rect x="915" y="526" width="4" height="3" fill="#ff0000"/>
<rect x="925" y="527" width="1" height="5" fill="#ff0000"/><rect x="923" y="528" width="4" height="4" fill="#ff0000"/>
<rect x="933" y="531" width="1" height="5" fill="#ff0000"/><rect x="931" y="531" width="4" height="5" fill="#ff0000"/>
<rect x="941" y="525" width="1" height="9" fill="#00ff00"/><rect x="939" y="529" width="4" height="4" fill="#00ff00"/>
<rect x="949" y="521" width="1" height="7" fill="#00ff00"/><rect x="947" y="521" width="4" height="6" fill="#00ff00"/>
<rect x="957" y="516" width="1" height="8" fill="#00ff00"/><rect x="955" y="517" width="4" height="4" fill="#00ff00"/>
<rect x="965" y="516" width="1" height="6" fill="#ff0000"/><rect x="963" y="516" width="4" height="4" fill="#ff0000"/>
<rect x="973" y="518" width="1" height="7" fill="#00ff00"/><rect x="971" y="519" width="4" height="3" fill="#00ff00"/>
<rect x="981" y="511" width="1" height="12" fill="#00ff00"/><rect x="979" y="514" width="4" height="8" fill="#00ff00"/>
<rect x="989" y="514" width="1" height="6" fill="#ff0000"/><rect x="987" y="516" width="4" height="2" fill="#ff0000"/>
<rect x="997" y="517" width="1" height="7" fill="#00ff00"/><rect x="995" y="518" width="4" height="2" fill="#00ff00"/>
<rect x="1005" y="517" width="1" height="7" fill="#ff0000"/><rect x="1003" y="520" width="4" height="2" fill="#ff0000"/>
<rect x="1013" y="520" width="1" height="6" fill="#ff0000"/><rect x="1011" y="523" width="4" height="2" fill="#ff0000"/>
<rect x="1021" y="523" width="1" height="11" fill="#ff0000"/><rect x="1019" y="523" width="4" height="7" fill="#ff0000"/>
<rect x="1029" y="526" width="1" height="10" fill="#ff0000"/><rect x="1027" y="527" width="4" height="6" fill="#ff0000"/>
<rect x="1037" y="528" width="1" height="10" fill="#ff0000"/><rect x="1035" y="529" width="4" height="4" fill="#ff0000"/>
<rect x="1045" y="521" width="1" height="11" fill="#00ff00"/><rect x="1043" y="523" width="4" height="7" fill="#00ff00"/>
<rect x="1053" y="517" width="1" height="10" fill="#00ff00"/><rect x="1051" y="519" width="4" height="3" fill="#00ff00"/>
<rect x="1061" y="513" width="1" height="8" fill="#00ff00"/><rect x="1059" y="515" width="4" height="4" fill="#00ff00"/>
<rect x="1069" y="512" width="1" height="9" fill="#ff0000"/><rect x="1067" y="517" width="4" height="4" fill="#ff0000"/>
<rect x="1077" y="521" width="1" height="10" fill="#ff0000"/><rect x="1075" y="521" width="4" height="5" fill="#ff0000"/>
<rect x="1085" y="517" width="1" height="12" fill="#00ff00"/><rect x="1083" y="521" width="4" height="6" fill="#00ff00"/>
<rect x="1093" y="513" width="1" height="12" fill="#00ff00"/><rect x="1091" y="516" width="4" height="7" fill="#00ff00"/>
<rect x="1101" y="516" width="1" height="15" fill="#ff0000"/><rect x="1099" y="518" width="4" height="12" fill="#ff0000"/>
<rect x="1109" y="524" width="1" height="5" fill="#00ff00"/><rect x="1107" y="525" width="4" height="4" fill="#00ff00"/>
<rect x="1117" y="524" width="1" height="5" fill="#ff0000"/><rect x="1115" y="525" width="4" height="4" fill="#ff0000"/>
<rect x="1125" y="524" width="1" height="7" fill="#00ff00"/><rect x="1123" y="528" width="4" height="2" fill="#00ff00"/>
<rect x="1133" y="521" width="1" height="8" fill="#00ff00"/><rect x="1131" y="526" width="4" height="2" fill="#00ff00"/>
<rect x="1141" y="523" width="1" height="10" fill="#ff0000"/><rect x="1139" y="523" width="4" height="10" fill="#ff0000"/>
<rect x="1149" y="527" width="1" height="5" fill="#00ff00"/><rect x="1147" y="528" width="4" height="3" fill="#00ff00"/>
<rect x="1157" y="521" width="1" height="8" fill="#00ff00"/><rect x="1155" y="524" width="4" height="3" fill="#00ff00"/>
<rect x="1165" y="519" width="1" height="6" fill="#00ff00"/><rect x="1163" y="520" width="4" height="3" fill="#00ff00"/>
<rect x="1173" y="515" width="1" height="7" fill="#00ff00"/><rect x="1171" y="518" width="4" height="2" fill="#00ff00"/>
<rect x="1181" y="515" width="1" height="10" fill="#ff0000"/><rect x="1179" y="518" width="4" height="5" fill="#ff0000"/>
<rect x="1189" y="523" width="1" height="6" fill="#ff0000"/><rect x="1187" y="525" width="4" height="3" fill="#ff0000"/>
<rect x="1197" y="523" width="1" height="7" fill="#00ff00"/><rect x="1195" y="523" width="4" height="6" fill="#00ff00"/>
<rect x="1205" y="522" width="1" height="4" fill="#ff0000"/><rect x="1203" y="523" width="4" height="2" fill="#ff0000"/>
<rect x="1213" y="520" width="1" height="5" fill="#00ff00"/><rect x="1211" y="521" width="4" height="2" fill="#00ff00"/>
<rect x="1221" y="512" width="1" height="9" fill="#00ff00"/><rect x="1219" y="515" width="4" height="6" fill="#00ff00"/>
<rect x="1229" y="517" width="1" height="10" fill="#ff0000"/><rect x="1227" y="517" width="4" height="10" fill="#ff0000"/>
<rect x="1237" y="526" width="1" height="9" fill="#ff0000"/><rect x="1235" y="527" width="4" height="6" fill="#ff0000"/>
<rect x="1245" y="530" width="1" height="8" fill="#ff0000"/><rect x="1243" y="530" width="4" height="8" fill="#ff0000"/>
<rect x="1253" y="531" width="1" height="8" fill="#00ff00"/><rect x="1251" y="532" width="4" height="2" fill="#00ff00"/>
<rect x="1261" y="523" width="1" height="11" fill="#00ff00"/><rect x="1259" y="524" width="4" height="4" fill="#00ff00"/>
<rect x="1269" y="518" width="1" height="7" fill="#00ff00"/><rect x="1267" y="520" width="4" height="2" fill="#00ff00"/>
<rect x="1277" y="516" width="1" height="9" fill="#ff0000"/><rect x="1275" y="519" width="4" height="4" fill="#ff0000"/>
<rect x="1285" y="520" width="1" height="14" fill="#ff0000"/><rect x="1283" y="522" width="4" height="11" fill="#ff0000"/>
<rect x="1293" y="526" width="1" height="9" fill="#ff0000"/><rect x="1291" y="530" width="4" height="5" fill="#ff0000"/>
<rect x="1301" y="532" width="1" height="5" fill="#ff0000"/><rect x="1299" y="533" width="4" height="3" fill="#ff0000"/>
<rect x="1309" y="530" width="1" height="4" fill="#00ff00"/><rect x="1307" y="532" width="4" height="2" fill="#00ff00"/>
<rect x="1317" y="522" width="1" height="6" fill="#00ff00"/><rect x="1315" y="525" width="4" height="3" fill="#00ff00"/>
</g>
<g font-size="9.8" fill="#fff" stroke="#fff" stroke-width="0.25"><text x="1473" y="506.6" textLength="10" lengthAdjust="spacingAndGlyphs">12</text><text x="1473" y="509.8" textLength="10" lengthAdjust="spacingAndGlyphs">10</text><text x="1471.5" y="516.6" textLength="5" lengthAdjust="spacingAndGlyphs">6</text><text x="1471" y="543.6" textLength="14" lengthAdjust="spacingAndGlyphs">-10</text><text x="1471" y="546.6" textLength="14" lengthAdjust="spacingAndGlyphs">-12</text><text x="1471.5" y="526.9" textLength="17.5" lengthAdjust="spacingAndGlyphs">0.00</text></g>
<g shape-rendering="crispEdges"><rect x="1469" y="504" width="36" height="11" fill="#ff0000"/><rect x="1469" y="529" width="39" height="11" fill="#00ff00"/>
<rect x="1468" y="497" width="2" height="1" fill="#fff"/>
<rect x="1468" y="523" width="2" height="1" fill="#fff"/>
<rect x="1468" y="548" width="2" height="1" fill="#fff"/>
</g>
<g font-size="9.8" fill="#000" stroke="#000" stroke-width="0.25"><text x="1473.7" y="513.3" textLength="27.5" lengthAdjust="spacingAndGlyphs">7.5000</text><text x="1473" y="538.3" textLength="31.5" lengthAdjust="spacingAndGlyphs">-7.3000</text></g>
<g shape-rendering="crispEdges">
<rect x="5" y="550" width="1" height="3" fill="#fff"/>
<rect x="69" y="550" width="1" height="3" fill="#fff"/>
<rect x="133" y="550" width="1" height="3" fill="#fff"/>
<rect x="197" y="550" width="1" height="3" fill="#fff"/>
<rect x="261" y="550" width="1" height="3" fill="#fff"/>
<rect x="325" y="550" width="1" height="3" fill="#fff"/>
<rect x="389" y="550" width="1" height="3" fill="#fff"/>
<rect x="453" y="550" width="1" height="3" fill="#fff"/>
<rect x="517" y="550" width="1" height="3" fill="#fff"/>
<rect x="581" y="550" width="1" height="3" fill="#fff"/>
<rect x="645" y="550" width="1" height="3" fill="#fff"/>
<rect x="709" y="550" width="1" height="3" fill="#fff"/>
<rect x="773" y="550" width="1" height="3" fill="#fff"/>
<rect x="837" y="550" width="1" height="3" fill="#fff"/>
<rect x="901" y="550" width="1" height="3" fill="#fff"/>
<rect x="965" y="550" width="1" height="3" fill="#fff"/>
<rect x="1029" y="550" width="1" height="3" fill="#fff"/>
<rect x="1093" y="550" width="1" height="3" fill="#fff"/>
<rect x="1157" y="550" width="1" height="3" fill="#fff"/>
<rect x="1221" y="550" width="1" height="3" fill="#fff"/>
<rect x="1285" y="550" width="1" height="3" fill="#fff"/>
</g>
<g font-size="9.8" fill="#fff" stroke="#fff" stroke-width="0.25">
<text x="4.7" y="561.5" textLength="51" lengthAdjust="spacingAndGlyphs">15 Dec 2022</text>
<text x="68.7" y="561.5" textLength="54.5" lengthAdjust="spacingAndGlyphs">15 Dec 08:45</text>
<text x="132.7" y="561.5" textLength="54.5" lengthAdjust="spacingAndGlyphs">15 Dec 10:45</text>
<text x="196.7" y="561.5" textLength="54.5" lengthAdjust="spacingAndGlyphs">15 Dec 12:45</text>
<text x="260.7" y="561.5" textLength="54.5" lengthAdjust="spacingAndGlyphs">15 Dec 14:45</text>
<text x="324.7" y="561.5" textLength="54.5" lengthAdjust="spacingAndGlyphs">15 Dec 16:45</text>
<text x="388.7" y="561.5" textLength="54.5" lengthAdjust="spacingAndGlyphs">15 Dec 18:45</text>
<text x="452.7" y="561.5" textLength="54.5" lengthAdjust="spacingAndGlyphs">15 Dec 20:45</text>
<text x="516.7" y="561.5" textLength="54.5" lengthAdjust="spacingAndGlyphs">15 Dec 22:45</text>
<text x="580.7" y="561.5" textLength="54.5" lengthAdjust="spacingAndGlyphs">16 Dec 00:45</text>
<text x="644.7" y="561.5" textLength="54.5" lengthAdjust="spacingAndGlyphs">16 Dec 02:45</text>
<text x="708.7" y="561.5" textLength="54.5" lengthAdjust="spacingAndGlyphs">16 Dec 04:45</text>
<text x="772.7" y="561.5" textLength="54.5" lengthAdjust="spacingAndGlyphs">16 Dec 06:45</text>
<text x="836.7" y="561.5" textLength="54.5" lengthAdjust="spacingAndGlyphs">16 Dec 08:45</text>
<text x="900.7" y="561.5" textLength="54.5" lengthAdjust="spacingAndGlyphs">16 Dec 10:45</text>
<text x="964.7" y="561.5" textLength="54.5" lengthAdjust="spacingAndGlyphs">16 Dec 12:45</text>
<text x="1028.7" y="561.5" textLength="54.5" lengthAdjust="spacingAndGlyphs">16 Dec 14:45</text>
<text x="1092.7" y="561.5" textLength="54.5" lengthAdjust="spacingAndGlyphs">16 Dec 16:45</text>
<text x="1156.7" y="561.5" textLength="54.5" lengthAdjust="spacingAndGlyphs">16 Dec 18:45</text>
<text x="1220.7" y="561.5" textLength="54.5" lengthAdjust="spacingAndGlyphs">16 Dec 20:45</text>
<text x="1284.7" y="561.5" textLength="54.5" lengthAdjust="spacingAndGlyphs">16 Dec 22:45</text>
</g>
</svg>
</body></html>
